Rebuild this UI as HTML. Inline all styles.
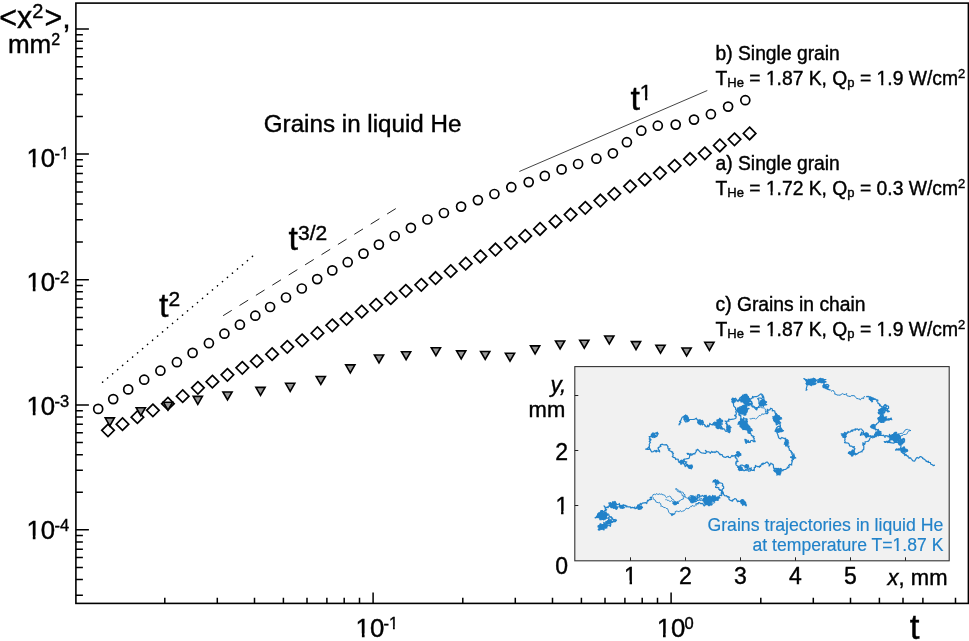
<!DOCTYPE html>
<html lang="en"><head><meta charset="utf-8"><title>Grains in liquid He</title>
<style>html,body{margin:0;padding:0;background:#fff}body{width:969px;height:641px;overflow:hidden}svg{display:block}text{font-family:"Liberation Sans",sans-serif;fill:#000;stroke:#000;stroke-width:.4px}</style></head><body>
<svg width="969" height="641" viewBox="0 0 969 641">
<rect width="969" height="641" fill="#fff"/>
<path d="M75.9 29.1h13M75.9 154.1h13M75.9 116.5h7M75.9 94.5h7M75.9 78.8h7M75.9 66.7h7M75.9 56.8h7M75.9 48.5h7M75.9 41.2h7M75.9 34.8h7M75.9 279.7h13M75.9 241.9h7M75.9 219.8h7M75.9 204.1h7M75.9 191.9h7M75.9 182h7M75.9 173.6h7M75.9 166.3h7M75.9 159.8h7M75.9 405h13M75.9 367.3h7M75.9 345.2h7M75.9 329.6h7M75.9 317.4h7M75.9 307.5h7M75.9 299.1h7M75.9 291.8h7M75.9 285.4h7M75.9 529.8h13M75.9 492.2h7M75.9 470.3h7M75.9 454.7h7M75.9 442.6h7M75.9 432.7h7M75.9 424.3h7M75.9 417.1h7M75.9 410.7h7M75.9 595.3h7M75.9 579.6h7M75.9 567.5h7M75.9 557.6h7M75.9 549.2h7M75.9 541.9h7M75.9 535.5h7M164.8 603.4v-5.6M217.3 603.4v-5.6M254.5 603.4v-5.6M283.4 603.4v-5.6M307 603.4v-5.6M326.9 603.4v-5.6M344.2 603.4v-5.6M359.5 603.4v-5.6M373.1 603.4v-11M462.8 603.4v-5.6M515.3 603.4v-5.6M552.5 603.4v-5.6M581.4 603.4v-5.6M605 603.4v-5.6M624.9 603.4v-5.6M642.2 603.4v-5.6M657.5 603.4v-5.6M671.1 603.4v-11M760.8 603.4v-5.6M813.3 603.4v-5.6M850.5 603.4v-5.6M879.4 603.4v-5.6M903 603.4v-5.6M922.9 603.4v-5.6M955.5 603.4v-5.6" stroke="#000" stroke-width="1.5" fill="none"/>
<rect x="75.9" y="3.1" width="892.5" height="600.3" fill="none" stroke="#000" stroke-width="1.6"/>
<path d="M102.6 382.2L252.6 256.3" stroke="#000" stroke-width="1.6" stroke-dasharray="0.1 6.42" stroke-linecap="round" fill="none"/>
<path d="M223.1 315.7L396.6 208.1" stroke="#222" stroke-width="1" stroke-dasharray="10.2 9.1" fill="none"/>
<path d="M519.3 171.5L707.3 90.5" stroke="#222" stroke-width="0.85" fill="none"/>
<g fill="#fff" stroke="#000" stroke-width="1.7">
<path d="M108 424.1l6.25 6.25l-6.25 6.25l-6.25 -6.25z"/>
<path d="M122.5 417.9l6.25 6.25l-6.25 6.25l-6.25 -6.25z"/>
<path d="M137.4 410.9l6.25 6.25l-6.25 6.25l-6.25 -6.25z"/>
<path d="M152.9 404.1l6.25 6.25l-6.25 6.25l-6.25 -6.25z"/>
<path d="M167.9 397.4l6.25 6.25l-6.25 6.25l-6.25 -6.25z"/>
<path d="M182.7 389.9l6.25 6.25l-6.25 6.25l-6.25 -6.25z"/>
<path d="M197.9 381.6l6.25 6.25l-6.25 6.25l-6.25 -6.25z"/>
<path d="M212.4 375.4l6.25 6.25l-6.25 6.25l-6.25 -6.25z"/>
<path d="M227.4 368.6l6.25 6.25l-6.25 6.25l-6.25 -6.25z"/>
<path d="M242.3 361.6l6.25 6.25l-6.25 6.25l-6.25 -6.25z"/>
<path d="M256.8 354.9l6.25 6.25l-6.25 6.25l-6.25 -6.25z"/>
<path d="M272.1 347.9l6.25 6.25l-6.25 6.25l-6.25 -6.25z"/>
<path d="M287.3 340.6l6.25 6.25l-6.25 6.25l-6.25 -6.25z"/>
<path d="M302.1 334.1l6.25 6.25l-6.25 6.25l-6.25 -6.25z"/>
<path d="M317.4 326.9l6.25 6.25l-6.25 6.25l-6.25 -6.25z"/>
<path d="M332.3 319.1l6.25 6.25l-6.25 6.25l-6.25 -6.25z"/>
<path d="M346.6 312.6l6.25 6.25l-6.25 6.25l-6.25 -6.25z"/>
<path d="M361.7 305.4l6.25 6.25l-6.25 6.25l-6.25 -6.25z"/>
<path d="M376.1 298.6l6.25 6.25l-6.25 6.25l-6.25 -6.25z"/>
<path d="M390.8 291.9l6.25 6.25l-6.25 6.25l-6.25 -6.25z"/>
<path d="M405.8 284.6l6.25 6.25l-6.25 6.25l-6.25 -6.25z"/>
<path d="M421.3 278.6l6.25 6.25l-6.25 6.25l-6.25 -6.25z"/>
<path d="M435.6 271.8l6.25 6.25l-6.25 6.25l-6.25 -6.25z"/>
<path d="M450.7 264.9l6.25 6.25l-6.25 6.25l-6.25 -6.25z"/>
<path d="M465.7 257.4l6.25 6.25l-6.25 6.25l-6.25 -6.25z"/>
<path d="M480.4 250.2l6.25 6.25l-6.25 6.25l-6.25 -6.25z"/>
<path d="M495.5 243.3l6.25 6.25l-6.25 6.25l-6.25 -6.25z"/>
<path d="M510.9 236.6l6.25 6.25l-6.25 6.25l-6.25 -6.25z"/>
<path d="M525.2 229.7l6.25 6.25l-6.25 6.25l-6.25 -6.25z"/>
<path d="M540 222.7l6.25 6.25l-6.25 6.25l-6.25 -6.25z"/>
<path d="M555.5 215.2l6.25 6.25l-6.25 6.25l-6.25 -6.25z"/>
<path d="M570.6 208.3l6.25 6.25l-6.25 6.25l-6.25 -6.25z"/>
<path d="M585.3 201.6l6.25 6.25l-6.25 6.25l-6.25 -6.25z"/>
<path d="M600.4 194.3l6.25 6.25l-6.25 6.25l-6.25 -6.25z"/>
<path d="M614.3 187.6l6.25 6.25l-6.25 6.25l-6.25 -6.25z"/>
<path d="M630.1 180.1l6.25 6.25l-6.25 6.25l-6.25 -6.25z"/>
<path d="M644.8 173.2l6.25 6.25l-6.25 6.25l-6.25 -6.25z"/>
<path d="M659.9 166.8l6.25 6.25l-6.25 6.25l-6.25 -6.25z"/>
<path d="M674.6 159.6l6.25 6.25l-6.25 6.25l-6.25 -6.25z"/>
<path d="M690 152.8l6.25 6.25l-6.25 6.25l-6.25 -6.25z"/>
<path d="M704.8 147.1l6.25 6.25l-6.25 6.25l-6.25 -6.25z"/>
<path d="M719.8 139.2l6.25 6.25l-6.25 6.25l-6.25 -6.25z"/>
<path d="M734.5 133.1l6.25 6.25l-6.25 6.25l-6.25 -6.25z"/>
<path d="M749.6 127.2l6.25 6.25l-6.25 6.25l-6.25 -6.25z"/>
</g>
<g fill="#979797" stroke="#000" stroke-width="1.6" stroke-linejoin="miter">
<path d="M105.2 417.9h9.2l-4.6 8z"/>
<path d="M136.2 407.7h9.2l-4.6 8z"/>
<path d="M163.4 402.2h9.2l-4.6 8z"/>
<path d="M193.2 396.4h9.2l-4.6 8z"/>
<path d="M222.9 392h9.2l-4.6 8z"/>
<path d="M255.9 387.4h9.2l-4.6 8z"/>
<path d="M285.6 383.3h9.2l-4.6 8z"/>
<path d="M316.2 376.5h9.2l-4.6 8z"/>
<path d="M345.7 364.9h9.2l-4.6 8z"/>
<path d="M374.4 355h9.2l-4.6 8z"/>
<path d="M401.5 351.7h9.2l-4.6 8z"/>
<path d="M431.3 347.7h9.2l-4.6 8z"/>
<path d="M456.6 350.9h9.2l-4.6 8z"/>
<path d="M480.6 351.5h9.2l-4.6 8z"/>
<path d="M505.4 353.2h9.2l-4.6 8z"/>
<path d="M530.5 345.9h9.2l-4.6 8z"/>
<path d="M555.5 341h9.2l-4.6 8z"/>
<path d="M579.7 340.2h9.2l-4.6 8z"/>
<path d="M604.7 336h9.2l-4.6 8z"/>
<path d="M631.4 341.6h9.2l-4.6 8z"/>
<path d="M655.9 345.2h9.2l-4.6 8z"/>
<path d="M682 348h9.2l-4.6 8z"/>
<path d="M704.8 342.3h9.2l-4.6 8z"/>
</g>
<g fill="#fff" stroke="#000" stroke-width="1.7">
<circle cx="98.2" cy="408.9" r="4.5"/>
<circle cx="113.2" cy="399.1" r="4.5"/>
<circle cx="128.2" cy="389.4" r="4.5"/>
<circle cx="144.2" cy="379.7" r="4.5"/>
<circle cx="160.4" cy="370.7" r="4.5"/>
<circle cx="176.9" cy="362.2" r="4.5"/>
<circle cx="192.6" cy="352.9" r="4.5"/>
<circle cx="208.9" cy="343.2" r="4.5"/>
<circle cx="224.4" cy="333.7" r="4.5"/>
<circle cx="239.9" cy="324.7" r="4.5"/>
<circle cx="255.3" cy="315.7" r="4.5"/>
<circle cx="270.1" cy="307" r="4.5"/>
<circle cx="286" cy="297.5" r="4.5"/>
<circle cx="301.8" cy="288.5" r="4.5"/>
<circle cx="317.2" cy="279.1" r="4.5"/>
<circle cx="332.3" cy="270.4" r="4.5"/>
<circle cx="347.7" cy="262.2" r="4.5"/>
<circle cx="363.5" cy="253.6" r="4.5"/>
<circle cx="378.9" cy="244.6" r="4.5"/>
<circle cx="394.7" cy="236" r="4.5"/>
<circle cx="410.9" cy="227.8" r="4.5"/>
<circle cx="427.4" cy="219.5" r="4.5"/>
<circle cx="443.9" cy="213" r="4.5"/>
<circle cx="461.1" cy="206.6" r="4.5"/>
<circle cx="477.9" cy="200.1" r="4.5"/>
<circle cx="494.4" cy="194" r="4.5"/>
<circle cx="511.3" cy="187.2" r="4.5"/>
<circle cx="528.7" cy="182.1" r="4.5"/>
<circle cx="544.8" cy="175.9" r="4.5"/>
<circle cx="561.6" cy="169.4" r="4.5"/>
<circle cx="578.1" cy="164" r="4.5"/>
<circle cx="596.4" cy="158.7" r="4.5"/>
<circle cx="612.9" cy="153.3" r="4.5"/>
<circle cx="626.9" cy="142.2" r="4.5"/>
<circle cx="641.3" cy="130.7" r="4.5"/>
<circle cx="657.8" cy="125.7" r="4.5"/>
<circle cx="675.7" cy="124.6" r="4.5"/>
<circle cx="694" cy="119.6" r="4.5"/>
<circle cx="710.9" cy="114.2" r="4.5"/>
<circle cx="728.1" cy="106.6" r="4.5"/>
<circle cx="745.3" cy="100.2" r="4.5"/>
</g>
<rect x="574.8" y="366.6" width="374.4" height="194.2" fill="#f1f1f1" stroke="#333" stroke-width="1.1"/>
<path d="M574.8 505.5h3.5M574.8 450.5h3.5M574.8 395.5h3.5M630.5 560.8v-3.5M685.5 560.8v-3.5M740.5 560.8v-3.5M795.5 560.8v-3.5M850.5 560.8v-3.5M905.5 560.8v-3.5" stroke="#222" stroke-width="1" fill="none"/>
<path d="M598.8 530.3l-.6-.7l1.5-.6l-.5-.7l.5 .4l-.2-1.4l1.6-.5l1.3-.1l-.1-1.8l1.7 .3l.1-.4l.6 1.5l-.2 .3l.7 1.3l1.8-.1l-.3-.1l-.3-.6l-.3-.4l-.3-.3l1.8-.3l1.2-1.2l.8 .8l.7 .6l.5-1.7l-.5-1.6l.3-.8l.3-.2l.2-.2l.2-.1l.1 .4l-.8-1.2l.2 .2l.2-.1l.2 .2l.2 .1l-.8-1l-1.7 .4l1.2 .7l1.4 .5l1.7-.5l.6 .5l1.5-.8l0 .2l.3 .3l.8-1.6l.1 .2l-.7 .6l-.6-1.4l-.7 .6l.4-.5l-.7 .5l-.6 .5l.6-.6l-1.5-1l-.6 .4l.5-1.3l-.7 .6l-.4-1.7l-.5 .8l0-.9l-1.8-.2l.2 .1l-.7 .8l-.8 .7l-1.7-.4l-.3 .5l.4-.4l-1.6-.8l-1.7-.4l.4-.6l.3-.4l-1.7-.3l-.7 .6l-1.4-.7l-1.3 1.1l.2 .2l-.8-.8l-.6 1.4l.2 .3l-1.1-.9l.4 .6l-1.8 .3l.2 .4l1.5-.5l.5-1.7l.5-1.5l.9-1.3l.2 .7l1.6-1l-.1 .3l.7-1.2l-.2-.1l-.1-.6l1.7 .5l1.8-.2l.8-1.1l.7-.6l-.5 1l.7-.3l.7-.5l-1.4-.7l-.2-1.8l-1.1-1.4l.8 .8l.4 .6l.7 .6l1.5-1l-.3-.1l.2 .4l.7 .5l.9-1.5l1.6-.5l-.5-.6l.7 .6l1-1.5l.6-1l.7 1.1l-.2-.1l.8 1l.8-1.2l.4 .9l1.8-.2l1.7-.4l.6-.4l.5-.4l0 1.6l1.5 .6l-.7 .8l.7-.6l.3 1.8l.8-1.1l.1-.6l1.1-.7l.7-.6l-.4 .6l1.7 .4l.5-.4l.4 1.7l.8-.8l0-.4l-.1 .9l1.8 .2l1.7-.1l.7 1.3l.1-.5l-.3 .2l1.5-.4l1.7 .4l.6-.5l.2-.3l-.3 0l.6 1.7l1.7-.5l-.3-.6l.3 .5l.7-1.4l1.7-.2l-.2-.7l-.2 0l.8-1l.7-1.4l.3 .7l.7 .7l-.2-.5l1.2-1.1l1.8-.3l1.7-.3l.7 .6l.2 .3l.4-1.7l.6-1.6l.6 .6l1.2-1.4l.8 .4l1.5-.6l-.8-.8l-.5-.6l-.3-.4l1.8-.1" fill="none" stroke="#2182c9" stroke-width="1.2" stroke-linejoin="round"/>
<path d="M652.3 496.9l0-.1l-.1-.5l.7-1.1l0-.4l1.4-.6l.7 .4l.6 .2l.8-1.3l.1 .1l1.1 .7l1.5 0l.8-.7l.8 .9l.8-.8l.3 .8l1.4 .3l1.4 .3l.7 1l.1 .3l.1 .2l0 .2l1 .8l.8-.7l1.2-.3l.7-.3l.5-.2l1.1 .7l.4 1.2l.8 1.1l1.4 .4l.7 1.2l.7 .9l.1 .1l0 .1l-.5 1.2l1 .8l.5-.9l1.5 .1l-.1-.6l-.1-.5l.7 .3l1.3-.5l-.1-.6l-.1-.4l.7 .3l1-1.1l1.3-.5l1.2-.3l-.1-.5l.5 .2l-.2-.7l-.1-.5l.4-1.1l.8 .5l-.6-1.2l-.6 .2l-1.3-.5l0-1.1l-.8-1.1l-.8-1l-1.4-.3l-.1-.4l-.7 .4l-.8-1.1l-.7-.9l-.3-.5l-1-.5l.7-.3l.6-.2l.6 1.2l1.4 .5l.1 0l.7 1.3l.6-.3l.5-.1l-.1 .6l1.3 .5l.4-.1l1.2 .6l-.1 .2l.5 1.3l1.3 .6l-.3 .6l.6 1.3l-.1 .6l1.3 .5l1.2 .5l.5 0l-.2 .3l1.2 .8l.2 1.5" fill="none" stroke="#2182c9" stroke-width="0.9" stroke-linejoin="round"/>
<path d="M690.0 501.3l.8 .8l-.3-.4l1.7-.3l-.3-.5l.7 .7l.6-1.4l.6 .7l.6 .5l.3 .2l.8 .1l-.9-.2l.3-1.7l1.4-.7l1.3-.3l-.8-.8l1.4-.7l-.9-.9l.5-1.7l1.7 .2l-.2 .3l-.3 .3l.8 1.2l-.2 0l-.2 .4l-.2 0l-.2 0l.8-1.1l1.8 .2l.8-.8l1.3 1.2l1-1.1l.8 1.2l.8-1.3l-.7 .3l.3-.3l.3 1.8l1.2 .2l1 .8l-.3 1.8l-1.3 .7l-1.3 .7l.8 1.3l-1.2 .5l-.1 1.8l-.8 1l-.8-1l.2 .1l-.4-.9l-.8-.8l-1.8 .2l-.7-.7l-1.3-.4l-.6 1.5l-.7-.5l-1.5 .5l.6 1.4" fill="none" stroke="#2182c9" stroke-width="1.2" stroke-linejoin="round"/>
<path d="M695.3 505.7l-.1 .3l-1.5 .2l-.7-.5l-.8-.3l-.5 1l0 .3l-.9-.4l-.7 1l-1.2 .8l-.8 .9l-.8-.6l-.1-.1l-.1 .3l-.8-.5l-.6 1.1l-.2 0l-.7 .9l-.8 .8l-1.5 .1l-.8 .8l-.8-.7l-.8-.6l-.4 .9l-.1 .1l-.1 .1l-1.5 0l-.1 0l-.8-.6l-1.3 .3l.1 .5l-.7-.2l.1 1l-.2 1l-.8-.3l-.5 1.1l-1.4 .2l-1.4-.3l0-.6l-1.4-.4l-.8-1.1l-.1-.2l-.3-1l-.3-1l-.4-.9l-.1-.4l-1.5-.3l-.7-.8l-1.5-.1l-.9-.7l-1.2-.6l-.5 .1l-.6 0l.4-.7l0-.2l-.5-1.4l.1-.4l-1.3-.8l.1-.5l-.7 .3l-.6 .2l-1.3-.6l-.4 .1l-.1-.1l-.4 0l-.3-1.4l-.6 .1l.2-.7l-1.2-.8l-1.1-.6l.4-.5l-.6-1.4" fill="none" stroke="#2182c9" stroke-width="0.9" stroke-linejoin="round"/>
<path d="M671.6 515.0l-.3-.3l.6 .8l.7-1.5l1.8 0l-1.5 .8l-1-1.1l-.8 1.3" fill="none" stroke="#2182c9" stroke-width="1.2" stroke-linejoin="round"/>
<path d="M707.5 500.4l.8 1l.8-1.2l.2-.8l.8 1l1.3 .7l1.8-.2l1.3-1.2l1.8 0l.7-1.5l-.3-.3l1.7-.3l.8-1.4l.8-1l1.7 .4l.1-1.8l-.8-.8l1 .2l.1 .2l1.1-.8l-1.3-.5l-.4-.1l1.2-.7l-.9-.6l.7-1.6l1.2-.8l-.1-1.8l-1.4-.7l.7-.7l-.5-1.6l-1.6-.5l-1.7-.4l-.6 .4l-1.3 0l-.2 .3l-.2-1.8l.2 .1l-.8-.9l-.7-.8l-.7 1.4l-1.2-.7l-.7 1.5l.8-.8l1.7 .4l.4 1.7l-.5 .7l1.5 .6l-.5 .6l.6-.4l-.6 .6l-.5 .7l-.2 1.1l1.7 .4l0-.4l1.6 .6l-.1 1.5l1.6 .5l-.5 .6l1.1-.4l.8 1.6l1.4 .6l.3 1.8l1 1.5l1.7 .4l.4-.4l.9 1.5l.6-.5l1.5 .6l-.7 .3l0 1.6l.8 .9l1.5 .6l1.4 .5l-.3-.4l-.2-.3l1.6-.8l1.2-1.1l1.5 .8l.5 1.3l.7 1.2l.8-.9l-.2 .2l1.8 .2l1.7 .2l.6-.5l0-.2l-.5 .6l.6-.4l.5 1.6l.6 1.5l-.3 .4l-.3 .3l-.2 .2l.8-.8l.7-.6l1.5 .3l-.8 .8l-.1-.2l.6-.5l-.6 .9l1.2-.5l-.3 .2l-.1-.3l-.2 .2l-.1 .5l.8 .9l.5-1.4" fill="none" stroke="#2182c9" stroke-width="1.2" stroke-linejoin="round"/>
<path d="M688.2 497.8l.8-1l.8-.9l.1-.1l1.5-.1l0-.1l1.5 .1l.1-.1l.8 .5l.6 .3l1.4-.2l.4-.3l.1 .7l.9 .9l.1-.1l1.4 .6l1.5 .2l1.4 .2l-.7 1l-.7 1l-.3-.3l-1.4 .2l-1.5 .2l0 .5l-.8 .8l-.1-.5l-1.5-.2l-1 .4l0-.4l-.7-1l-1.5-.1l1.3-.4l1 .9l1 .8l1.5 0l.8-.7l1.3-.1l.8-.6l.6-.5l0 .3l.8 .9l.8-.6l.8 .9l.4-.4l.3 .7l1.5 .1l.7 .9l1.5-.2l.6 .8l1.4 .4l.1 0l.1 0l.1-.1l.8 .7l1.5-.2l.8-.9l.6 .3l1 .2l1.3-.6l-.1-.3l.1-.1l-.1-.5l-.1-.8l.3 .2l.7-1.2l0-.4l.7-1l1.5-.1l.8-.9l-1.5-.2l-1.4 0l-.6-1l-.8 .6l-.7 .3" fill="none" stroke="#2182c9" stroke-width="0.9" stroke-linejoin="round"/>
<path d="M665.4 499.6l.2 .1l.3-.2l.3-.1l.7 .8l1.4 .1l.2 .1l.8 .7l1.3 .3l.2-.2l.8-.7l.7 1l1.3 .3l.1 .4l.7 .9l1.3 .5l.8 .7l-.4 .2l-.3-1l-.2-.2" fill="none" stroke="#2182c9" stroke-width="0.9" stroke-linejoin="round"/>
<path d="M678.9 425.4l.4-1.7l.6 .4l.4-1.7l-.4-.7l-.4-.4l.8 .7l.6 .4l-.6-.6l.6-1.5l.6-1.6l.7-1.4l1.5-.9l1.3-.7l.7-.7l.7 1.4l.7-.7l-.3 .5l-.3 .3l.7 1.3l.5-1.1l.7 1.3l-1.4 .7l-1 0l.1-.2l-.2-.2l-1 .8l.3-.2l.2-.2l-.9 .7l.4 1.7l.8 .9l1.7-.3l1.6-.9l.7-1.3l1.8 0l1.8 0l1.7-.4l1.3-.9l.7 1.4l1.5 .6l-.7 .7l.3 1.6l.7 1.5l1.7 .2l-.1-.2l-.1 .8l.7-.8l.7-.6l.7 1.5l-.1-.2l.7-.7l1.5 .6l.6 1.7l.1-1l-.2-.1l-.2-.1l.8 .9l.7 .8l1.7-.4l-.3-.7l-.1 .3l-.1-1l.6 .8l.1 .4l.6 .5l.5-1.6l.7-1.4l-.3-.4l.7 .7l.7 .6l1.5 .1l-.1 .2l-.4-.2l1.3-1.3l1.1-1.4l1.6 .5l-.5 .7l.6 1.4l-.2 .3l.7-.8l-.3 .4l1.3-.5l1.3 1.2l.8 1.4l-.1 .6l-.2 0l.5 .9l.7 .7l-.4-.7l1.8-.3l.2 1.3l-.3 .3l.8-.8l1.7 .4l.6 1.6l.8 .8l1.7-.3l.7-1.4l.8-.3l.8-.7l-1.3-.8l-.2-1.8l-1.2-.7l.6-.6l-1.2 0l.7-.7l-1.5-.7l.6-.3l.5-1l-1.6-.8l-.2-.3l1.2 .6l-.3-.1l1.7-.4l1.3 .1l-.7-.8l.6-1.5l.8 .8l1.7-.3l1.7-.2l1.6-.5l1.3-.7l.2-1.8l-.7-.4l-.5-.2l-.1 .2l.4 .3l-.7-.7l1.5-.7l.3-1.7l-.5-.5l-.1-1.1l.9-1l-1.1-.8l0-1.8l-.9-.8l-1.1-1.1l-.1-1.8l0-1.8l-.6-1.6l-.9-.8l-.5-.7l.7 .6l.4-1.7l1.7 .6l1.2-.5l1 1.4l.7 1.4l-.4-.5l.7 .6l.6 .5l0-1.4l.6 .5l-.5-.5l1.6-1l-.4-.3l.7-1.4l1.7 .3l.7-.6l1.3 1.2l1.1 1.4l-.4 0l1.4 .7l.3-.2l1.2 .8l.6 0l-.2 1.7l-.1-.3l-.6-.5l-.5-.4l-.5 1.7l.5 .6l-.1 1.3l-.7-.6l.3 1l.3 .2l-1.8 .3l-.7-.5l0-.3l-1.5 .6l-1.2 .8l-.7 .1l-.9 .2l0 1.8l1 .8l1 1l-1 .1l-1 .4l.1-.2l.1-.2l.1 1.8l-.5 1.5l-.7 .8l1.4 1l.3-.3l.3-.2l.2 1.7l0 1.8l.5 1.6l-.6 .6l1.5 .9l-.6 .6l1.5 .7l-.6 .6l.6 1.6l-.4 .5l-.1-.2l.5 1.4l.8 1l.7 .5l.3-1.7l-.4 .4l1.6 .4l.6 1.6l.7-.6l.5 1.6l.5-.4l1.3 .2l-.7 .7l.5 1.7l1.3 1.2l.5 1.7l1.3 .7l.2-.2l1.2 .7l-1 1l1.2 .9l-.5 1.7l1.2 .8l.1 .7l.1-.2l-1.7 .2l-.8-.8l-.5-.6l-1.6 .5l-.5 1.7l-1.7-.4l.4-.5l-.8-1.4l.1 .4l-.8 .8l-1.6-.5l-.5 .3l-.2-1.7l-.2-.1l1.6 .5l-.1 1.4l-.3 .4l-.2 .3l-.3 .2l.8 1.2l-.2-.2l-.2-.1l.8-1l.8-.8l.5 1.6" fill="none" stroke="#2182c9" stroke-width="1.2" stroke-linejoin="round"/>
<path d="M745.5 399.9l.8-1.2l1.8-.2l-.2-.1l-.2 .1l.8 .9l-.2-.6l.7 .8l-.2-.3l1.7-.1l1.4-1.1l.8-1.3l.4 1.2l-.1-1.2l-.4-.4l.8 .6l1.6-.4l1.5 0l1.5-.6l1.3-.9l1.1-.8l-.4 .3l.8-.8l1.5 .7l-.6 .7l1.4 .1l-.7 .7l-.1 1.5l.7-.6l.5-.4l.4 1.7l0 1l-.8 1.2l-.8-1l.1-.3l-1.1-.6l-1-.5l-1.4 0l-1.3 .8l1.1 .8l.3 1.7l0 1.6l.4-.3l.7 1.7l-.4 1.2l-.2 .3l.4-.8l1.5 1l-1.4-.2l-1.6 .5l.5 .6l-1.5 1l-1-.3l.9 .8l-.6 1.6l-.3-1.4l-.7 .7l.1-1.1l-1.6-.8l.3-.3l.2-.2l-1.5-.9l-.8 1l.1-.9l.2 0l-1.5-.8" fill="none" stroke="#2182c9" stroke-width="1.2" stroke-linejoin="round"/>
<path d="M750.8 406.1l1.4-.1l.8 .9l.8 .8l.1 0l.8 .6l.5-.8l1.5 0l1.5 0l.1-.1l1.5 .1l.9-.6l.8 .9l1.5 0l1.4 .3l.9 .8l0 1.5l.1 .1l.1 .1l0 1.5l.1 .1l.8 .8l-1.5 .3l-.7 1l-1.2-.2l-1.2-.2l-.2 .9l-1.1 .9l-1.4-.2l0 .2l-.8 .9l-.1 .1l-.6 .9l-.8 .7l-.1 0l-.8 .7l-.2 .2l-.8-.8l-1.5 0l-1.5 0l-.8 .7l-1.4-.5" fill="none" stroke="#2182c9" stroke-width="0.9" stroke-linejoin="round"/>
<path d="M765.7 413.9l1.5-.6l.3 .3l.4-1.7l.3 .3l-.5-.3l-.5-.3l-.5-.6l.5 .4l.5-1.6l-.4-.5l.8 .6l.5 .4l1.4-.7l0 .2l.6-1.6l1.5 .5l.5 1.7l-.4 .5l1.1-.4l1.5 .6l.2 1.8l1.2 .8l.7 1.5l-.2 1.8l.7 1.6l1.2 .8l0 1.8l1.1 .8l-.2-.2l.8 .6l-.3-.3l.7 .8l-1.5 .7l.9 .8l.4 1.7l-.4 .5l.9 1.4l-.5-.8l-.7-.8l.3 .4l-.8-.7l-1.6 .5l.3 0l-1.4 1.2l-.6 1.5l.4 1.7l-.5 .6l1.6 .3l-.6 .7l.6 1.5l.7 1.4l-.3 .2l.8 1.3l-.2-.3l0 .7l.8 1l1.6 .4l-.2-.3l1.2-1.1l1.4 .8l1.7 .5l.8-.5l-.6 .7l.2 1.5l1-.7l1.5 .6l-.3-.3l.7 .9l-.2-.3l-.4 1.7l-.5-.4l-.5-.2l-1.2 1l-.5 0l.3 1.7l.5 1.7l.6-.4l1.3 .1l1.3 .6l.1-.2l-1 .8l1.1 1.3l.1 1.8l1.6 .6l0 1.4l.6-.5l.5 1.6l.3-.5l-.4 .6l-.2 .9l1.8 0l.4-.2l.2 1.7l.1 1.7l1.6 .6l-.6-.4l-.4-.4l-1.5 .7l-.3 1.7l-1.4 .7l.9 .8l-.5-.3l0 1.7l-.5 1.6l.3 1l0-.3l-1.5-.1l-.6-.4l-1.1 1.3l.5 .4l-.5-.5l.6 .7l-.5 1.5l-1.3-.6l.2 .3l-.7 1.2l-1.5 .9l-1.8 .1l-.8 1.2l-.8-1l-.7-.8l-.7-.6l-1.2 1.4l-1.6 .5l.3-.5l-.7-1.3l-1.8-.2l-.7 .7l-.4 .3l.7-.7l-1.7-.5l0-1.7l-.3-1.8l-1.4-.7l-1-.8l.2 .2l-.8 1.1l-.7 .9l0 .3l.3-.5l-.8 .8l.4-.5l-.1 .4l.3-.7l-.8-1.3l-.9-.9l.2-.1l-.5-.5l-.5-.3l-1.1 .3l-.7 .8l-1.7 .6l-.7-.6l.4 .1l-.5 1.5l-.7-.7l.3 .4l-.7-.6l-.7 1.4l-.5 1.3l-.5-.8l.2 .4l-.7 1.2l-.6-.9l.3 .2l-1.8 0l-.7-.6l-.9-.3l-.4-.3l.6 .9l-.5-.3l.2-.2l-.4 1.7l-1.1-.2l.2 1.6l-.3 1.6l.2 .2l-.7-.9l.2 .3l-1.8 .2l-.7-.8l.3 .4l.2 .4l-.9-.8l-.7 1.5l-1.7 .2l-.8-1l-.8-.9l-.8 1.2l-.8-.9l.3 .3l-1.5 .9l-.8-.9l-.6-.5l-.2-.3l.8 .8l-1.6 .5l-1.6-.9l-1.5-.6l.4-1.7l-.1 .2l-.3 .2l-.9-.1l1-1l-.8-.1l-1.1-.8l-.8-.8l-.2-1.6l.5 .3l-.6-.3l.5-1.7l.6 .6l1.4-.8l-1.2-.4l.1-1.8l-1.1-.8l.5 .4l-.6-.7l-.5-.5l-.4-.6l1 .4l-.5-.6l-.4-.5l.7-1.5l1.7-.3l.7 .5l-.5-.3l1.6-.8l-.5-.6l1.5 .3l.6 1.6l-1.7 .5l-.7-.8l.3 .4l-1.7 .4l-1.6-.1l-1.4 .1l-1.3 .7l-.8-.9l-.9 1.2l-.8 1l-1.7-.3l-.2-.9l-1.8 .2l-.7 .7l-1.7-.1l-1.5-.9l-.5-1.6l-1.8-.1l0-.6l-.3 .8l-.8-1.1l-.8-1.1l-.8-.9l-1.5-.5l.3 .4l-1.5 1l-.7-.8l-1.7 .5l-.8-1l-.8 1.1l-.8 1l-.1-.8l-1.4-.8l-1.8 .1l-.8-.9l-.7-.6l.5 .6l.3 .4l0 1.1l-.8 1l-1.8-.4l-1.8-.1l-1.5-.8l-1-1.1l-.8-.9l-.7-.7l.3 .5l-.7-.7l.4 .5l-1.7 .4l.4 .6l-.7 1.3l-.8 1.1l-.1 .6l-1.8-.1l-.8 .8l.1 .3l.3-.3l-1.2 .6l-1.6-.1l.4-.6l.4-.4l.3-.4l-.8 .8l-1.6-.5l-1.5-.6l.8 1.2l-.2-.1l.8-1l1 1.2l1.8-.1l-1.6 .6l-.1 1.6l-.6 1.6l-1.7 .3l-1.7 .4l-1.6 .2l.1-.1l.5 .6l-.6-.5l.5 .6l-.7-.5l-1.2 1.3l.6-.5l1.2-.2l-.4 1.2l-.5 .6l1.5-.1l1.5 .6l.3-.3l-.8 .8l-.5 .6l-.4 .5l.8-.7l.6 1.6l.8 1.2l-.2 .1l.9-1l.7 1.2l-.2 .1l.8-1l-.2 .3l0 .8l.8 1l1.8-.1l.7-1.3l-1.3 1.1l-.8 1.2l-1.7-.4l-.7-1.4l.1-.9l-.8-1.3l-.8 1l.3-.3l-.8 .8l-.7 .7l-.6-1.6l-1-1.3l.2-.2l-1.6-.9l-1.7-.1l-1.8-.3l.3-.3l-.8-1.2l.1-1.2l-1.7-.4l-.9 .5l-.5-1.6l-1.7-.5l-1.2-.8l.8-.8l-.3-1.7l.7-.7l-1.5-.7l.7-.7l-1.5-.6l-1.5-.7l-1.3-.7l.8-.8l.5-.5l.3 0l-.6 .5l-1.4-.7l-.2-1.8l.2-.1l.1 .2l-.8-1.1l-.8-1l-1.7 .1l-1.8-.1l-.7-.6l-1.5 .6l-.1-.2l.6 .1l-1.2 .7l.9 .8l-1.1 .6l-1.1 .8l.1-.2l-.9 .8l.1-.2l.2-.3l.2-.2l-.3 1.7l1.1 1.4l.1-.2l.3 1.7l-.8-.9l-1.8 .1l-.8-.8l.3 .3l.2 .3l0-.5l.2 .3l-.8 1.2l-.8-.9l.2 .2l-.7-.8l-1.5 1.1l-1.7 .3l-.8-1.3l-.7-1.2l-.4-1l-.8 1.1l-1.8-.1l.3-.1l-1.8-.1l1.7-.5l.8-1.1l.7-.8l-.5 .7l1.3 1.1l-.5-1.4l.4-1.6l-.5-.7l.6-1.5l.8-1.2l-1.2-.8l.9-.8l.8-.7l-1.2 0l.8-.5l.4-.1l-.5 .3l-1.3-.7l.9-.8l-.9-1.5l1.8-.1l.8-1.2l-.3 .2l0 .6l.8 1l1.7-.4l.3-1.8l-.1 .2l.4-1.7l1.7-.5l.9-.1l.2-.2l.1-.2l-.4-.1l-.7 1.4l.4-.4l.3-.2l1.2 .8l-.2-.3l-1.1 1.1l.4 .5l-.8 1.4l-.7-.8l-.7 1.4l-1.7 .6" fill="none" stroke="#2182c9" stroke-width="1.2" stroke-linejoin="round"/>
<path d="M738.5 466.1l1.8-.1l.5-.9l1.8 .1l1.4 .9l1.8 0l-.1 .8l-.2 0l1.8 .1l-.2 .1l-.2 .1l.2 .8l.8 .9l1.2 .6l.6-1.5l.8 .8l1.2-1.3" fill="none" stroke="#2182c9" stroke-width="1.2" stroke-linejoin="round"/>
<path d="M805.6 390.5l1.4-.7l-.8-.7l.4-1.7l.5-1.7l.3-1.5l-1.4-.7l.3 .1l.3-1.5l.6-.6l.2 0l-1.6-.6l-.4-1.7l-1.6-.7l1.2 1.1l1.8 0l.5 1.1l-.2 0l1.3 .4l.6-.4l.5 1.6l1.6 .5l1.6-.4l.5 .4l-.5-.6l-.4-.6l.7 .6l-.4-.5l1.6-.2l1.5-.6l.2 .2l1.2-.8l1.2-.8l.8 1.1l.8 1l-.2-.1l.4-1l1.7 .4l1.7-.5l.8-.9l1.6 0l-1.7 .3l-.8-.6l.3 0l-1.2-.4l.3 0l-.1 1.5l-.5 1.4l-1 1.2l-.2-1.2l1.5 .6l1.2 0l.8-.1l.5-.1l-.9 .9l-.5 1.5l.5-.4l.9 1.6l.6-.5l.5-.4l.5-.4l1.2 .1l1.2 1.4l-.8 .7l-.1 1.6l-.4 .5l-.4 .5l1.7 .4l1.6 .5" fill="none" stroke="#2182c9" stroke-width="1.2" stroke-linejoin="round"/>
<path d="M831.0 391.3l1-.4l.5-.4l1.5 .5l-.1 .2l.8 1.2l-.1 .5l.3 1.1l.1 .6l.8-.6l1.1 1l1.6 .1l1.6 .1l.8-.6l0 .2l.8-.7l.6-.5l1.4 .7l1.5 .3l.2-.3l.7-.4l.7-.3l-.2 .7l-.1 .5l.7 1.1l1.5 .3l1.6 .3l.8-.6l-.1 .2l.7-.6l1.5 .3l.8-.5l-.1 .3l1.3 .9l.8 1.1l.7 1l1.6 0l.8 .8l.1-.6l.8 .6l.7 .5l-.1-.4l.8-1.1l1.5-.2l.8 .5l-.1-.4l-.1-.4l0-.4l0-.1l.8-.9l0-.2l.4 1" fill="none" stroke="#2182c9" stroke-width="1.0" stroke-linejoin="round"/>
<path d="M866.2 397.0l.7-.6l1.7 .5l-.1-.2l.1-.3l-.5 .6l.8-.5l1.4 .4l-.4 .1l-.3 1.4l.3-.5l-.5 .6l-.3 .5l1.6 .9l-.1 .4l.8-1.1l1.7-.3l1.8 .1l-.1-.1l1.3 .7l1 .3l.9 .4l-1.3 .8l1.1 .8l.2 1.5l1.6 .7l0 1.5l.7-.6l-.5 .6l1.6 .7l-.2 0l.8 .9l1.5-.9l.8-1l.8-.8l0 1.4l.8-1l1.3 .8l1.3 .7l.1 1.8l.1-.2l-.9 .8l-.6 .3l.5 1.7l-.3 .4l.7-.8l-.5 .7l1.8 .3l-1.6 .5l-.8-1.2l-1.8-.2l.2 .1l-.8 .9l.2-.2l-1.5-.9l-.8-1l-.8-.9l0-.3l-1.5 1.1l-1.1 .7l1 .8l.9 .8l-.4-.2l.8 .7l.5 .7l-1.6 .5l.6 .4l-.2-.4l-.5-.4l.7 .8l-1.3-.2l.6-.5l-.5 .6l.6 1.5l.7 1.4l.2 1.1l1.8 0l.8 1.1l1.6 .7l.8 1l.8-1.2l.8 1l1.7-.3l-.2-.2l.5-1.1l1.6-.5l-.3 .4l.7 1.2l-1.4-.7l.2 .1l-1.6 .6l-.7-1l-.8 1.2l-.8-1l-1.7 .3l-.8-.7l-.4-.3l-.1-.2l-.1 1.8l.2-.2l.2-.1l-.8-1.1l-1.6 .9l.4 .2l.3 .5l.1-.3l-.6 1.5l.2-.2l-.8-.7l.3 .9l-1.7 .3l-.7-.6l-.6 1.6l-1.5 .9l-.7 1.3l-1.8 .5l-1.3-.7l-1.5 .5l.5 1.6l1.3 1.2l1.6 .6l.5 1.6l.7-.6l1.5 .7l.6-.6l-.4 .6l-.4 .5l1.7 .7l1.6 .4l-1.6 .7l-.6-.4l-1.4 .6l.8 .8l-.1-.3l-.5 1.6l-.2 .2l.8 1.1l.2-.8l1.8 .1l1.8 .1l1.8 .2l-.1-.4l1 1.2l.5 1l-.3-.5l.8-1.2l1.8 .1l.7 1.2l.8-1l-.2 .2l1.7 .5l-.2 .1l-.2 .1l1.8 .1" fill="none" stroke="#2182c9" stroke-width="1.2" stroke-linejoin="round"/>
<path d="M893.2 437.1l.7 .2l1.2-.6l.4 0l1-.8l1.2-.6l.4-.1l.4-1.3l.9-.2l.4 0l1.2-.4l1 0l.6 0l1-.9l-.1-.5l1.2-.7l.4-1.2l.8-.5l1.3-.1l.4-.2l.9 .9l.4-.2l1.3 .3l.1 .5l.7-.3l-1.3 .3l-1.3 .5l-.7 1l-.3 .8l-.6 .9l-.2 .2l-1.3 .4l-.2 0l-1.4 0l-1.2 .5l0 .5l-.7-.1l0 .3l-.6-.1l-.6 1.2l-1.2 .5l-.9 1.1" fill="none" stroke="#2182c9" stroke-width="0.9" stroke-linejoin="round"/>
<path d="M898.2 438.8l.5 1.5l.7 1.4l-1.7 .4l-1.6 .4l-1.8-.1l.2-.1l.2 0l-.8 .9l-1.8-.2l.2-.1l-1.8-.3l.2-.6l-1.7 .4l-.8-1.1l.2 0l-1.8 0l-.9 1l.2-.4l-1.7-.2l.7 .7l1.4-1l.8 .6l.6 .6l1.6-.6l.6 .5l-.5-.7l-.5-.5l-.3-.5l.7 .6l.6-1.6l-.3-.5l.7 .7l.7-1.5l0 .4l.7 .7l1.6-.6l.6-.5l.6-.5l-.4 .5l-.3 .9l.7 1.5l.6-.6l1.7 .4l-.4 .5l-.1-.2l0 1.2l1.7 .1l.6 1.5l.9 1.3l.8-.9l-.1-.2l.6-.5l1-.3l-.7 .4l-.6 .7l.5 1.4l-.2 1.7l-.9 1.6l-.8 1.3l-1.5-.5l-.8-.6l.4 .5l-1.7 .5l.8-1.2l1 .9l.8-1.1l1.8 .2l1.6-.7l.8 1.2l.8 1.1l1.8-.1l.8-1l.8 1.2l-.3-.2l.8-1.1l.8 1.4l-.7-.6l0 1.3l-1.7 .3l-.7 1.5l-1.8 .1l1-.6l.2 1.3l.7 1.4l.8-.8l-.3 .4l.8-.7l.3 1.3l1.8 .3l-.3 .4l-.2 .2l1.3 .9l-.1 .7l1.7-.4l.8 1.2l.8 1l.8 .9l1.7 .2l.7-1.4l.8-1.2l-.2-.1l.7-.6l.5-.4l1.2 .8l.8-.7l.6-.6l.5-.4l1.5 .6l1.3 1.1l-.5 .3l1.5 .6l1.1 .8l1.2 1.2l-.3 .3l.2-.6l-.3 .3l1.5 .9l.7-.9l.8 1.4l-.2 0l-.2 0l1.8 0l.4 1.7l1.6 .5l.8 .9l1.7-.5" fill="none" stroke="#2182c9" stroke-width="1.2" stroke-linejoin="round"/>
<path d="M876.9 434.7l-1.6-.5l.1 .8l-.8-.9l.2 .1l.3 .3l-.2 1.1l-.8 1l-.7 .6l-.2 .3l-.4 .4l-1.3-.8l-.8-.9l.2-.7l-.8 .8l-1.7-.4l-1.6-.5l-.1-.6l-1.5-.5l.3 .3l-.2-.5l-.5-.6l.2 .7l-.7-.6l-.7-.6l-1.4 .1l-.3-.3l.2-.1l-.3-.3l-.3-.2l-.2 1.7l-.9 1.5l.2-1.2l.8 .8l1.7-.3l1.4-1.1l-1 .4l.4-.6l-.6-1.5l.3-.5l-1.3-1.1l-.8-1.3l-1.8 0l-.8 1.3l-.7-.8l-.8-.6l-1.6 .4l-.7-.5l.2 1.4l0-.3l-1.5 0l-1.3 .1l-1.1 .8l1.4 .3l-1-.7l.2 .8l-.8-.7l-.7 1.3l-1.8 .3l-.7-.7l.3 .4l-.7 1.4l-.3-.8l-.8 1.4l-.8-1l-.6 1.4l-.1 1l-.5-.9l-.8-.7l.3 1l-1.4-.4l-.5-.4l-.9 .1l1.2 1l-.6 .7l.5-.4l1.1 1.5l1.4 .7l.9 0l-.9 .4l.3 1.8l-.5 .5l.6 1.5l-.2 .4l-.3 .3l-.2 .3l1.7 .2l1.8 .2l1.3 1.1l0 .8l.7 1.2l1.8 0l.8 1l1.8-.5l-.8 1.2l1.3 .7l-.6 1.7l-1.7 .4l-.9 1.5l-.8 1.3l.2 0l-.8-1l-1.7 .3l-.2 .6l1.8 .2l-.2-.1l-.2 .1l1.5-.5l-.2 .3l.7 1.3l1.8 .1l.6-.9l.7-.6l.5 1.7l-.3-.3l.8-1.2l.8 1l-.3-.2l1.6-.8l.5-.9l1.6-.4l1.5-.6l.4 .3l.3-1.8l.3 .2l1.1-.8l.1-1.8l0-1.8l-1-.8l.2-1.8l-.3-.3l.8 .7l-.3-.4l.7 .6l.3 .5l-.4-.5l.6 .5l-.4-.5l.7 .5l.5-1.6l-.2-.9l1.8-.3l1.7-.4l1-1.5l.5-1.6l1.7-.7l.7-1.3l1 .7l.9 .6l-.4-.9l-.3-.4l.2 .5l.7 .6l1.5-.8l.4 .3l-.8-.8l-.4-.3l-.3-.3l.1 .5l-.3-.4l-.2-.2l.3-1l.7 1.2" fill="none" stroke="#2182c9" stroke-width="1.2" stroke-linejoin="round"/>
<path d="M604.9 515.0l1.3 0l.1-1.3l0 1.3l0-1.3l0 1.4l0 1.3l-1 .3l1.2-.2l0-1.3l0-1.3l0 1.3l0 1.3l0-1.2l-.7 1.1l-1.9-1l-1.3 0l1.3 0l-.5-1.2l-1.1-.7l-1.2 0l.3-1.2l.2-1.1l.4 1.7l-1.2 .1l.2 1.4l-.8 .1l-.7 .5l-.3-1.2l1.7 1.7l1.4 0l0 1.3l1.3-.1l0 1.3l1.3-.8l0 1.1l.7 .5l-1.1-.8l-.2-1.6l1.3 0l-1.6-.7l1.3 0l-.1-1.4l1.3 0l0 1.3l0 1.3l.1-1.4l-1.3 0l.8 .9l-1 .2l0-1.4l-.1 1.3l0-1.4l-.9 .9l0 1.2l0 1.3l1.4-.4l-.2-2.3l.4-1.4l0 1.3l1.1-.1l0-1.3l1.3-.4l-.1 1.3l1.3 0l-1.3 0l-1.3 0l-1.3 0l0 1.3l-1.4-.2l0-1.3l1.3 0l-1.3 0l-1.1-.7l-1.2-.4l1.5 .1l0 1.3l-1.3 0l-1.2 0l-1.3 0l.2 1.3l-.7 1l-1.1-.1l.3-1.4l-1.1 0l1.5 0l-1-.7l.3-1.3l.5 .2l0 .2l1.7-1.1l-.2 1.2l1.8 0l-1.1 0l-.5 1.1l.1 1.2l.1 1.3l.3 1.1l-.8-.5l.4 1l.7-2l-1.1-.1l.9-1.3l0 1.3l1.5-.1l.1-1.4l-.5-1.2l.1-1.3l-1.2 0l-.7 .2l.9 1.5l-1.3 0l.1 1.3l.1 1.3l.3 1.1l1.8-.4l.3-1.6l-1.2 .3l-1.2-.1l1.1-1l1.3 0l-1.3-.1l-.9 .8l.1 1.3l.3 1.1l.6-1.8l.2-1.4l-1.1 .6l-.9-1l.1-1.3l-.6 .1l.8 1.3l1.4 0l1.2-.5l0 1.3l-1.2 0l-1 .8l1.5-.1l.1-1.4l1.3 0l-.1-1.3l1.4 0l1.3 0l-1.3 0l-.5 1.2l0-1.3l-1.3 0l.3-1.3l-1.3 .1l-1-.3l.5 1.5l1.3 .8l0 1.3l1.4 0l1.3 0l0 1.2l.1 1l-1.3-.9l.1 1.1l1.4 0l-.1 .1l0 .1l1.3-1.3l-.7-3l-1.1 .7l-1.3 0l-1.3 0l-1.3 0l1.2-.5l1.4 0l.6-1.2l0 1.3l0 1.3l1.4 0l-.1-1.4l-1.3 0l.4 1.3l1.3 0l.4-1.5l0-1.3l.4-1.1l-.3-.6l.5 2.5l-1.1 .8l0 1.3l1.3-.2l-1.3 .2l-.1 1.1l0-1.8l0-1.3l-.3 1.3l0 1.2l-.6 1l.3 1l-1.2-.9l.1 1.1l.2 .6l-1-1.1l-1.1-.3l.2 1l1.7-.6l1.5-.4l0-2.1l1.3 0l.3-1.1l-1.1 .8l-.3 .8l-.6-1.4l0 1.3l-.8 1l.1 1.1l-1.2-.5l.2 1l1.3-1.4l0-1.6l-1.3 0l.1-1.3l-1.3 0l-1.3 0l.1 1.3l-1.2 0l1.4 0l-1.3-.1l-1-.7l.2 1.3l1.4-.1l-.4 1.1l1.6-.1l.2-1.4l1.3 0l.2 1.2l-.7-1.1l.6-1.2l-1.3-.1l1.3 .5l0-1.3l.1-1.3l-1.3-.2l.2 1.4l.3-1.3l-1.2-.3l-1.1 .1l1-1l.3-1.1l1.6-.1l.7 2.8l1.4 0l-.7 1.3l0-1.3l0 1.4l0-1.3l1.3 0l1.2 .3l-.9-.9l-.3-.6l-.3 .5l1.2 1l0 1.3l0 1.3l-1.1-2.4l0 1.4l-1.3 0l.9 .8l-1.3 0l.5 1.2l-.4-1.3l0 1.3l-1.3-.1l.1-1.4l0-1.3l-1.2 0l1.6 .1l0-1.3l-1.2 0l.1-1.2l.2-1.2l-.8 1l-.8 1l-.9 .2l2.4 .3l.1 1.4l1.4 0l0-1.3l0 1.3l.9 1l0 1.3l-.7 1l.1-1.5l-1.3-.1l1.4 0l0 1.3l.1-1.5l-.7 1.1l1.3-.1l.1-1.5l0 1.3l0 1.2l-1-1.2l1.3-.3l-1 .7l-.7-1.2l1.3 0l-1.3 0l.1-1.3l1.3 0l0 1.3l-1.1 .7l1.4 0l0-1.4l0-1.3l.5-1.2l-.1-.7l-1.5 1.5l.8-1l1.4 .4l-.1 1.4l-1.3 0l0-1.3l-1.2 .2l-1.3 0l1.4 0l-.4 1.3l0 1.3l1.4 0l-1.3 0l-1.3 .3l1.1 .7l.8 1l-1.2-.2l-.8-1.1l1.3 0l1.4-.1l.5-1.2l0-1.3l-1.3 0l1.3 0l1.3 0l0-1.3l-1.4 .2l0 1.6l1.3 0l-1.3 0l1-.8l-1.3 0l1.3 0l-.4 1.3l0 1.2l-1.4-.2l0 1.3l-1.2-.2l0-1.4l-1.2 0l-1.3 0l1.3 0l.1 1.3l.2 1.2l-1-.3l-.8 .5l1.7-.3l1.5-.3l-1.2-.2l.2 1.1l-1-.4l-1-.3l.3-1.6l1.4 0l-.1 1.3l-1 .4l-1-.3l.3-1.5l1.4-.1l0 1.2l.7-1.3l0-1.3l.1-1.3l-1.3 0l1.8 .2l1.3 .2l0-1.3l1.4 .2l-1.5 .4" fill="none" stroke="#2182c9" stroke-width="1.3" stroke-linejoin="round"/>
<path d="M613.7 505.2l0-1.3l0-1.3l-1.3 .6l1.4 .2l0-1.2l.9 1.7l0-1.3l1.1 .5l-.7 1.4l-1.5-.3l0 1.3l-1.3-.3l.9 .9l-1.1-.2l-1.2-.1l-.5-1.2l-1 .1l-.2 .9l1.3 .8l.5 1.1l1.4 .1l.8-.3l-1.1-.9l.2-1.1l0-1.3l-1.3 0l1.4 0l0-1.2l.1 1.6l-1.2 0l1.2 .6l-.9 .9l-1.2 0l-1.1-.5l1.7-.1l-1.3 0l.3-1.3l-.1 1.4l1.5-.1l-1.3 0l.2 1.3l2.3-.8l.2-1.4l0-1.3l.1 1.6l-1.3 0l.1-1.3l1.1-.7l.2-.8l1.5 .7l-.5 1.7l0-1.3l0 1.6l-1.3 0l0 1.3l.9 .6l.1 1.2l0 .5l0-2.6l.8-1l-1.3 0l0-1.3l-.7-.9l.3-.7l1.6 1.8l-.9 1.1l0 1.3l-.9 .9l2.3-1.5l-1.3 0l.2 1.3l1 .7l-.1-1.5l1.3 0l-1.4 0l1.3 0l0-1.3l-1.7-.8l1.2 .1l1.2 .1l-.9-.3l-1.5 .2l-1.3 .1l-1.3 0l-1.2 0l.2-1.2l-1 .3l-.9 .2l2 .3l.2 1.4l-.5 1.1l1.4-.5l1.2-.4l.9-1l1.2 0l-1.3 .1l-1.3 0l1.3 0l-1.3-.1l1.3 0l.9-.9l1.2 .2l-.3-1.1l-1.7 .6l.1-1l1.2 1.1l.2-1l-.5-.5l-.4 2.6l1.3 .2l-1.3 1.8l-1.3 0l.2-1.7l.1 1.4l0 1.2l0 .9l.1-2.4l0 1.3l0 1.1l0 .3l0-.1l.1 .1l0-2.6l0-1.3l1.1 .6l-.3 1.4l-1.2 .7l.1 .8l1.2-1.8l-1.3 0l.4-1.4l-.7 1.1l-1-.2l-1-.8l-1.1 .3l1.7 0l-1.2 0l1.5 0l.4 1.3l2.7-1.5l-1.4 1.3l.8 1l1.3-.2l-.1 1.2l.7-1.3l1.2 0l-.2 1.2l-.6 .9l.6-.8l-.5 .9l-.7 .4l.5-1.3l-1.6-.4l-.2-1.6l1.3 0l0 1.3l-.7 1l1-.6l-.3 1l-1.8-.8l.2-1.9l-1.3 0l.2-1.7l.5 1.3l1.3 0l0-1.4l1.1 .1l-1.1 1.7l-.1 1.3l.2 1.1" fill="none" stroke="#2182c9" stroke-width="1.3" stroke-linejoin="round"/>
<path d="M603.2 526.2l0 1.3l0 1.3l0 .7l0 .1l-1.3-1.3l-.7 .8l-1-.5l-1.1-.2l-.2 .9l.8 .8l1.7-2l.1 1.2l1.6-.7l.7 .7l-.2 .4l.5-.3l-.2 .5l-.3-2.8l-1.3 0l1.3 0l-1.3 0l-1.3 0l-1.2 0l-1-.1l-.7-.1l0-1.1l.3 1.3l1.9 .5l.3 1.2l.3-1.5l1.3-.1l-1.2 0l1.3 0l-1.3 0l.1-1.4l0 1.3l.4 1.3l.5-1.4l1.4 0l.3-1.3l.5-1.2l.6 1.2l-.1 1.3l1.1-.1l-3.1-.5l0-1.3l1.2-.4l0-1.2l-.1-1l1.2 .7l-.2 1.6l-.5-1.2l1.2 .2l.8 1.1l1.1 .5l0-1.3l-.3-1.2l.9 .4l-1.8 .3l-.2 1.5l.6 1.1l-.6 1.3l-1.7-2l-1.3 0l0 1.3l0-1.3l1.3 0l1.2-.6l-.4 1.3l-1-.9l0-1.2l-.1 1.4l-1.3 0l.3-.9l-1.3 .4l1.4 2.5l-1.3-.1l0 1.3l1.5-.4l-1.3-.5l.1-1.4l-1.3 0l-1.2 .2l1.5 0l-.4-1.2l-1.2 0l1.4-.4l1.3 2l1.3 0l.5 1.2l1.2-.2l-1.5-.1l-.3-1.4l-.5 1.1l-.8-1.1l-1.3 0l1.4 0l1.3-.4l1.3 0l-.1 1.3l-1.4 0l-1.3-.1l.1-1.3l0-1.3l-.3 1.5l0-1.3l2.6 1.3l1.3 0l-1.5 0l1 .8l-1.7-1.9l-1.3 0l2.5 1.4l-1 1.1l0-1.3l-1.3 0l1.3 0l.3-1.3l-1.3 0l-1.2 .3l.5 1.6l-1.3 0l.1-1.3l-1.2 .2l-1.1 0l1.3-.7l.3-1.2l.9 0l.8 2.5l1.3 0" fill="none" stroke="#2182c9" stroke-width="1.3" stroke-linejoin="round"/>
<path d="M609.6 521.0l.2 1.3l-1.2-.5l-.7 1.1l1.4-.1l0-1.5l-1.3 0l-.2 .6l.5 1.2l1.4-.2l.6-1.5l-1.3 0l-.3-1.3l0-1.2l.2 1.8l-1.3 0l1.5 0l0-1.3l-.1-1l.3 2.4l-1.3 0l0 1.3l1.4 0l-.3 1.2l-1.2-.4l-1.2-.1l-1-.4l.3-1.1l1 .9l1.6-.1l0-1.4l0-1.3l.1 1.5l-1.2 0l.2 1.3l.1 1.3l1.1-1.2l0 1.2l1.5-.5l.1-1.8l0 1.3l-.2-1.6l.5-1.2l.1 1.6l-.2-1.3l1.1 .1l-1.4 .1l-1.3 .5l-1.3 0l1.4 0l0 1.3l.8 1l-.1 .9l-1.3-.6l1.5-.3l-.1 .8l-.2-2.4l1-.9l0 1.3l0 1.2l.9-.7l.6 .1l-2.4-.6l1.3 0l-1 .9l-1.2-1.1l1.3 0l1.3 0l-.5 1.1l-.5-1.9l0 1.3" fill="none" stroke="#2182c9" stroke-width="1.3" stroke-linejoin="round"/>
<path d="M708.4 500.4l0 1.3l0 1.3l1.3-.2l-1.3 0l1 .7l-1.4-.1l-.4 .7l.2-2.4l.1-1.3l-1.3 0l-1.3 0l-1.3 0l-1-.3l1.6 0l1.4 0l1.3 .3l-1.3 0l.5 1.2l0-1.3l-.4-1.2l-1.3 0l-1.2-.4l1.4 0l.1-1.3l.2 1.4l-1.3 0l-.4 1.3l-1.1-.1l1.5 .6l1.5 0l-1.2 0l1.5 0l1.3 0l0-1.3l-1.2 0l-1.3 .3l.1-1.3l-1.3 0l.2 1.4l.1-1.3l.2 1.4l.1 1.3l.3-1.4l1.4 .1l1.3 0l-.1 1.3l-.2-1.3l1.3 0l.1-1.3l.2 2.5l0 1.3l1.3-.1l-.1 1.3l0 1.2l-1.1-1.2l1.3-.3l-1 .8l0 1l-.1 .5l1.3-1.1l-.3 1l-.2-1.8l0 1.2l-.4 .9l-.5-2.2l0-1.6l-1 .9l-1.2-.2l-1.2-.1l-1.1-.1l1.7 0l.1 1.2l.3 1l1.7-.8l-1.1-.8l.1-1.4l0 1.2l.1-1.4l0-1.3l0 1.3l0-1.3l0-1.3l0-1.3l.9 .3l.4 3.1l1.3 .2l-1.4 0l1.3 .4l-1.1-.8l1.3 0l0 1.3l1.3-.1l-.6-1.6l0 1.3l-1.6-.2l-1.3 0l-1.3 0l1.4 0l0 1.3l1.4-.1l-1.3-.1l-1.2-.5l0 1.3l.2-1.5l-.3-1.3l1.3 0l-.4 1.3l.1-1.4l1.3 0l-1 .8l0-1.3l1.2-.1l0-1.3l-1-.7l1.7 1.7l1-.8l0-1.3l1.2 .2l-1.5 .1l.8 1.1l1.3 0l-.1 1.4l-1.4 0l-1.2 .4l1.3 0l-.1 1.3l0 .9l-.4 .9l-.1 1.1l1.1-.3l-.5 .6l1.1-.5l.2-.6l-1.3 0l-.5-1.6l1.1-.2l-1 .7l-.7 1l-1.4-.2l.8 .7l1.2-.3l-1.4-.2l1.3-.2l.4 1l-1.5-.4l1.2-.3l1.2-.2l-2.1-.6l0-1.3l-.1-1.4l1.3 0l1.3 0l1.2 0l1.1 0l-.3 1.3l-1.1-1.5l1.2 0l-.4-1.3l-1.5 0l-.1-1.3l1.2 .2l-.2-1.2l-1.7 .2l-1.5 .3l-1.4 .2l-1.3 1l.3 1.8l-.6-1.2l0-1.3l-.4 1.6l0-1.3l1.5 .2l-1 1.8l-.8 1l1.4 0l1.3 0l0 1.3l-1.3 0l0-1.4l0 1.3l1.4-.1l1.2 .1l-1.4-.2l.8 1l0-1.4l-.1-1.3l-1.3 0l1.3 .4l0 1.3l-.1-1.4l1.3 0l-1.3 .3l0-1.3l1.3 0l-1.3 0l1.3 0l0-1.3l1.1-.6l-1.5 .2l-.3-1.2l-.1-1l-1.6 .9l-1.2 1.4l.9 .3l-1 1.7l.7 1.1l0-1.3l-1.3 0l0-1.3l1.3 0l1.1 2.5l-1.3 0l0 1.3l.7 1.1l-1.3-.4l.1-1.5l-1-.9l-.9-.8l1.3 0l0-1.3l-1.2 .1l0-1.3l-.6 1.2l.1-1.2l.2-1.2l.8-.3l.9 2.9l.5-1.2l.7 2.9l1.3 0l-.8-1l1.3 .2l0-1.3l1.3 .1l-1.4 0l0 1.4l-.3 1.3l1.3-.1l0-1.3l-.1 1.3l1.1 .6l-1.7-.1l-1.4-.1l0 1.3l-1.3-.2l1.3-.1l1.2-.6l-1.3-.1l0-1.3l-1.3 0l1.3 0l.7 1.1l-1.2-.7l1.3-.3l0-1.3l0-1.3l-.1 1.4l-1.3 .1l.1-1.3l-.7 1.2l0-1.3l.9 2.9l.7 1.1l0 1.3l-1.3-.2l-.2 1l-.3 .1l.4-2.2l-1.3-.1l1.4 0l-.1 1.3l-1.2-.4l-1.2-.1l.3 1.2l.3 .9l1.8-.7l.3 .3l-1-1.4l1.4-.2l-1.3-.3l.7-1.2l.6 1.1l.5-1.3l0 1.3l0 1.2l1.1-1l-1.3-.1l0 1.2l-.8-1.5l0-1.4l-1.2 0l0 1.3l-.5-1.2l.1 1.3l.1 1.2l-1.1-.2l1.5-.2l-1 .4l.2-1.5l.1 1.2l.2 1.2l-.8-1.2l-1-.2l1.7-.3l.1-1.4l-.1-1.3l1.3 0l-.5 1.2l0-1.3l-1.3 0l-1.2 .2l0 1.4l1.7-.1l1.3-.4l.6 1.2l.5 1.1l1.3-.3l-1.2 .4l0-1.6l1-.9l-1.3 0l0 1.3l-1.1 .6l-1-.9l1.4 0l0-1.3l0 1.3l1.3-.1l-1.3 0l-1.3 0l1.4 0l0 1.3l-1.2-.3l1.4-.1l.1 1.1l1.5-.8l1.2 .1l-.1 1.1l-1.4-.2l1 .5l-1.4-.2l-.7 .6l-1.1-1.7l.8-1.3l0-1.3l-1.3 0l-1.3 0l.7-1.2l1.2 .4l-1.3 0l1.4 0l-1.3 .1l1.3 0l-1.3 0l0-1.3l.1-1.3l1.6 .4l.9 3l.9-.9l0 1.3l-.3-1.3l1.2 .5l-1.3 0l-1.3 0l1 .8l1.3 0l-1.3 0l0-1.3l0 1.3l-1.3 0l-1.1-.7l1.2-.6l0-1.3l.4 1.9l0-1.3l-.7 1.3l0 1.3l1.3-.1l-.1-1.3l1.3 0l.1 1.3l1.2 0l.8 .6l.3-.7l-1.6 .1l-.2-1.4l0 1.3l-.2-1.4l0-1.3l1.3 0l.2 1.3l1.2-.4l.6-1l-.1-1.3l.9 .8l.5-1.1l.9 .3l-.5-1.1l.4-.4l-2.1 .5l-.4-.9l-.7 2.1l1 .7l-.3-1.3l-1.6 .3l-1.5 .2l-1.4 .2l1.5 1.8l0 1.3l-.1 1.3l-.4-1.3l0-1.3l0-1.3l-.1-1.2l-.1 1.8l1.3 .1l1.3 0l1.2 0l-1.1-.8l1.2-.2" fill="none" stroke="#2182c9" stroke-width="1.3" stroke-linejoin="round"/>
<path d="M692.6 498.7l-1.3 0l.1-1.3l0 1.3l.1-1.3l1.3 0l.5 .8l1.3 0l1 .1l.5 .1l-1.7 1.1l-1.5 0l0-1.4l0 1.4l1.3 0l-1.3 .5l-.7 1.1l.1 1l.1 .6l-.4 .1l.2-.1l-1.2-1.2l-.4-1.6l1.6 .4l.5-1.3l0-1.3l.8 0l1.2 .1l-.5-1.1l.3 1.2l-.4 1.5l-1.3-.1l.8 1l-1.4-.1l1.4-.1l1.2-.1l-.5 1l-.3 .8l-.3 .7l.8-1.7l.5-1.4l-.2 1.3l.6-.7l.7-.3l.7-.1l-.7-1.5l-.2 .3l.3 .5l-.5-1.3l-2.8 .5l0-1.2l-1.6 1.6l.1-1.3l-.2-1.2l-.2 2l-1.3 0l-1 0l.6 1.4l1 .7l1.6 .3l1.4-.2l0-1.4l-1.3 0l0 1.3l-1.2-.1l2.8-1.1l0 1.3l-.1 1.2l-1.4-.3l-.8 .6l.1-.3l-.8-1l2.7-1.2l0-1.3l-.1-1.2l-1 .5l.1-.9l1 2.9l1.1-.6l-1.4 0l-.9 .9" fill="none" stroke="#2182c9" stroke-width="1.3" stroke-linejoin="round"/>
<path d="M639.1 507.5l1.3 0l1.3 0l-.4 1.3l-2.1-.5l1.3-.1l1.1-.1l-.3-1.4l-1.7-.7l-1.6 2.5l2.6-1.2l-1.4-.3l1.3 .3l-.2 1.3l-1.9-.7l-1.2-.1l.9-1.4l1.4 0l.6 1.2l1.3 0l1.1 0l-.9-1.3l-1.7 2.1l-.3 .9l-.2-2.1l-1.3 .1l.1-1.3l.1 1.4l-.7-1l.1-1.2l.3 1.7l-1.3 .1l1.6-1l.1-1.2l1.6 1.1l-.3 .5l-.9 2.9l1.4-.2l-2.3-1.3l.2 1.2l1.9-2.5" fill="none" stroke="#2182c9" stroke-width="1.3" stroke-linejoin="round"/>
<path d="M742.6 502.2l0 1.3l1.3-.1l1.1-.2l-.5 1.1l.5-1l.8-.2l-1-1.6l-1.7-.7l-1.4 .1l.1-1.2l-1 .8l-.3 .9l3 .6l-2.7 .3l.3-1.3l.7-.7l.2 1.6l.5-1.1l0-1.2l1.3 .8l-1.3 .8l1.3 .1l-.1 1.3l-1.3 0l1.3 0l-.1 1.3l1.1-.2l-.6-1.7l-.5 .2l-1.2 1.3l1.1-.8l0 1.3l-.5 .8l-.2 .3l-.7-2.5l-.6 1.1l-.6-1l.2-1.3l2.9 .8l-3.1 0" fill="none" stroke="#2182c9" stroke-width="1.3" stroke-linejoin="round"/>
<path d="M717.2 498.7l0-1.3l-.9 2.1l2-2.4l1 .4l.6 .4l-3 .5l-1.3 0l0 1.3l2.4-2l-.1 1.4l0 1.3l-.1-1.6l-1.3 0l-1.3 0l-1.3 0l.3 1.3l.4-.3l3-.7l-1.3 0l-1.2-.1l0-1.3l.2 1.4l.1 1.3l2.6-1.3l0 1.3l-1.5-.3l-.5-1.6l0 1.3l1.4-2.6l-.2-.1l1.3 1.8l-1.3-.4l0 1.3l-1.2 .3l1.2-2.7l1.2 .8l-1.5 .1l-1.2 0l1.3 0l-1.1-.6l-.7-.7l-.1 1.5l-1.2 0l-1 0l-.7 0l.3-1.1l-.3 .8l-.4 .1l-.1 .1l1.9 1.2" fill="none" stroke="#2182c9" stroke-width="1.3" stroke-linejoin="round"/>
<path d="M676.0 503.1l-1.3-.2l1.2 .7l1.3-.3l1.2 0l-.9-1.4l-1.1 2.1l-1.2 .4l2.2-1.5l-1.6 0l0-1.3l-.4 3l-.7-1.7l-1.1-.4l1.9 .1l-1.3 .1l.2 1.3l-.8-.3l-.6-.2l-.1-.2l1.7-1.3l.3 1.4l-1.3 0l.6 1.2l0-1.2l.2 1.3l1.2 0l-.9-1.8l-1.2 0l-.6 0l2.5-.3" fill="none" stroke="#2182c9" stroke-width="1.3" stroke-linejoin="round"/>
<path d="M717.2 482.0l1.2 .4l0 1.3l-1-.1l-.2-3.1l0 2.4l1.3-.4l-1.3 0l-.8-1.1l-1.1-.7l.3-1.1l1 2.8l1.2 .7l-1.6-.4l.2-1l0 1.3l2.4-1.4l-1.7 1.7l.1-2.9l0 .1l0-.2l-.7 2.7l-.2-1.5l0 1.3l1.4-2.5l.8 1.8l-1.3 0l-.1 1.3l-1.2-1.8l-.5-1.2l-.9 .3l-.8-.1l1.6-.7l.8 2.2l1.3 0l-1.3 0l-1.3 0l1.4 0l.6-1.2l-1.2 .7l-1.2 0" fill="none" stroke="#2182c9" stroke-width="1.3" stroke-linejoin="round"/>
<path d="M621.6 507.1l0-1.3l-1.3 1.8l.1 .4l2.8-1.1l-2.6 .2l0-1.3l-.5 1.1l-1.2 0l.6-1.2l1.4-.4l1.9 1.7l-.6 1.3l1-.5l-.3-1.5l-.3-1.1l-.9 2.9l1.3-.1l.9-.2l.5-.1l-1.7-1.7" fill="none" stroke="#2182c9" stroke-width="1.3" stroke-linejoin="round"/>
<path d="M745.5 399.9l1 .9l.6 1.1l0 1.3l-.1-1.5l1.3-.1l0-1.3l1.1 0l-1.2 1.1l.1-1.3l-.4 1.3l0 1.3l.3 1.2l1.2-.2l-.1 1.1l-.3 .9l.6-1.4l-1.4 .4l-.3 .7l-1.4-2.2l-.1-1.7l0-1.3l1.2-.4l-.7-1.3l1.2 .1l1.1 .2l.2 .3l-3 .4l-1.3-.4l0-1.3l0-1.3l-1.3 .1l1.2-.6l0-1.1l1.4 .4l-.1 1.8l-1.4 .1l-1.3 .1l1 1.1l-1.3 0l-1.2 .1l-1 .1l.2-1.2l0-.4l.9-.7l-.9 .4l.9 2l-1 .5l.1-1.3l.6-1l-.7 .4l.9 1.9l-.9-.8l1.7 .1l1.5 .1l1.3 0l0 1.3l.8 1.1l0 1.3l-.1-1.4l-1.3 0l-1.3 .1l-.9-.2l.2-1.4l-1.2 0l-.3-1.3l1.8 .1l.1-1.3l.1-1.1l.5 1.4l-1.2 .1l.2-1.1l-.1 1.5l.7 1.4l-.1 1.3l-1.2 0l-.5-1.2l.1 1.3l.2 1.3l1.5-2.2l-1.2 0l-1.3 0l-.7 1l-1 0l1.7-.1l1.5 0l.1 1.3l2.1 .1l.1-1.5l0 1.3l-1.3-.1l.4 1l.2-1.8l.1-1.4l1.4 0l0-1.3l1.3 0l-.2-1.1l-.1-1l-1.5 .4l.5 1.4l-1.3 0l0-1.2l-.5-1.1l.1-1.1l1.3 1l0-1l1.2 0l.9 1.7l.9 .7l-.8 2.2l-1.4 0l1.3 .1l-.2-1.3l1.1 .3l-1.7 .3l-1.4 .1l.6 1.1l0-1.3l1.3 0l-.1-1.1l-.2 1.6l-.1 1.3l1.3 0l-.3-1.3l0-1.2l-1.7 .4l0-1.3l1.3 .2l-1.6 .4l0-1.2l0 1.5l0 1.4l-1.3 0l1.3 0l-1.3 0l0 1.3l-1.2-.5l1.3 0l1.3 0l0 1.3l1.3 0l0-1.3l-.2 1.3l-1.3 0l0 1.3l0-1.6l1.3 0l1.3 0l0-1.3l-1.2 1.5l1.3 0l-1.4 0l1.3 0l1.3 0l-.7 1.1l-1.4 0l0 1.2l-.1 1.1l-.3-2l0 1.3l-.2-1.8l-.2 1.3l1.2-.3l1.1 .5l-.1-1.4l-.3 1.2l-1.4-.1l1.2-.2l-.1 1.3l1.1-.5l1.2-.1l-.1 1.2l1-.3l-.3-1.5l1.1 .2l-.2 1.2l-.3-1.5l-.2-1.4l-1.8-.1l.5-1.2l-1.8-1.4l.8-.1l-1.2-.9l.9 .5l.6 .3l-2.5-.3l-1.4 .1l1.3 .1l-.1 1.3l-.3 1.3l1.3 0l-.1 1.3l0 1.3l-1.4-.3l-.2-1.8l.4-1.3l0-1.3l.9 .9l1 0l-1.9-1.1l0-1.3l-.1 1.5l0-1.3l-.1-1.2l0-1l-1.4 .4l1.3 .2l-.1-1l0 1.8l1.1 .8l1.1 .3l-.5-1l.8 .6l-1.6 1.5l-.2 1.3l0 1.3l.7-1.1l0 1.3l1.3-.1l-1.4 0l0-1.3l-1.3 0l0-1.3l0-1.3l0-1.2l.8-.8l-.2 1.9l-.1 1.4l1.3-.1l1 .1l-2.9 .3l-1.2-.4l0-1.3l1.3 0l-1.3 .1l0 1.3l0 1.3l0 1.3l1.4-.2l1.2 0l-1.3 0l1.3 0l0-1.4l0 1.3l-1.3 .4l-1.2-.6l1.3-.1l0 1.3l-1.3-.2l0 1l1.5-.8l1.2-.2l0 1.3l-1.5-.3l-.1-1.8l0 1.3l0 .9l-1.4-.6l-1.1-.7l.4 .7l.4 .5l1.6-1.1l1.3-.3l-1.3-.3l.9-1l-1.3 0l0-1.3l-1.3 0l.5-1.2l1.3 0l0-1.3l-1.4 .1l.1-1.2l1.2-.3l0 1.7l-1.2 .6l0-1.3l0 1.4l0-1.3l-1.3 .1l.1-1.2l-1.2 .3l.2-.9l.5 1.7l1.4 .2l0-1.2l.1 1.5l-1.3-.2l-.6 1.2l.2-1.2l1.5 .4l-1.3 .1l.2-1.2l1.4 .4l1.3 0l0-1.1l1.3 .3l1 .6l-.8 2.2l-1.4 0l-1.3 0l0 1.3l0 1.3l-1.2 .2l.4 .9l.2-1.8l.2 1.2l-1.2-.2l2.1-.6l0 1.3l0-1.7l-1.3 0l.2-1.4l1.3 0l0-1.3l1.3 .1l-.1 1.4l.1 1.3l0-1.3l-1.3-.4l-1.3 0l-1.2 0l-1.3 .3l.1 1.3l-1-.1l.3 1.3l.3-.7l2.2 .1l-.7-.8l-1.3 0l1.5-.1l.1-1.3l-1.3-.1l-1.2 0l-1.1 .1l1.6 0l1.4 0l-1.2 0l-1.2 .1l1.5 0" fill="none" stroke="#2182c9" stroke-width="1.3" stroke-linejoin="round"/>
<path d="M742.4 411.3l-1 .8l-1.3 .4l.2-1.4l.7 1.1l1.3-.2l1.3 0l1.3 0l1-.1l-.6-1.4l-.1-1.3l-.1-1.2l-1.3 0l1.2 .2l1.3 0l-.3-1.2l.9-.6l-.3-1.1l-1.5 .4l-1.6 .5l-.4 .5l-1.6 1.8l-.1-.7l.8 0l0 2.1l1.3 0l-1.3 .1l-1.2 .2l-1.2 .5l0 1.3l.1 1.3l-.9-.3l.4 1.1l.6-2l.1 1.2l1.6-.3l.4-1.2l0-1.3l1.3-.2l1.3 .1l0-1.3l-1.4 0l0-1.3l1 1.2l0 1.4l0-1.3l-1.4 0l.9 1l0-1.3l1.3 .1l.5-1.1l0 1.3l.5 1.2l1.1 .1l-1.2-1l-1.4 0l-.3 1.3l1.3 0l-.2-1.2l-.1 1.3l-.1 1.3l.9-.1l.5-.1l.4-.2l-1.1 1.2l.1-.5l-1.7 .8l-.2 1.1l-.1-1.5l-1.4-.1l0 1.3l-1.3-.2l1.3-.1l-1.3-.1l0-1.3l-1.2-.1l-.3-1.3l-1.2 0l-1.2 .1l.4-1.3l1.4 .4l-1.2 0l-1.1 0l1.4-.7l.1-1.2l-1 .7l1.6 .1l.1-1.2l-1.1 .2l.2 1.5l1.5 0l0 1.4l.1-1.3l0 1.3l-.5-1.1l-.8-1l-1.2 .1l.7-1.1l.2 1.5l1.5-.1l.6-1.1l.9 1.3l0-1.2l1.4 0l1 0l1.3 .2l-.1-1.3l-.8 1.2l0-1.2l-1.5 .4l1.3 1.2l-.1 1.3l0 1.4l0-1.3l0-1.3l-1.3 0l-1.3 .3l-1.3 .1l1.1-.8l.1-1l.5 .2l1.6 1l1.2 .3l1.3 0l-1.4 0l0 1.4l1.3 0l-.1-1.3l1.2 .1l1.1-.1l.5-.7l.8 .3l-2.2 .4l-.2-1.2l-.1-1.2l-.2-1.1l-1.6 .5l1.1 .4l-.2-1.1l-.2-.8l-1.9 1.2l-1.6 1.8l.1-.2l1.4 1l-.1-1.1l-1.5 1.2l.4-.7l.1 2.2l.8-.9l0 1.4l-1.3 0l0-1.3l1.4 .3l-1.3 0l1.3 .2l1.2-.6l1.2 .2l1.2 .1l-.2-1.2l-1.5 .1l0 1.4l-1.4 0l0 1.3l0-1.3l.4-1.2l0-1.2l-1.5 .3l1.1 1.8l1.3 0l0-1.2l1.2 0l-.1 1.4l-1-.9l1-.7l.4 1.3l1.1 .1l-.4 1.5l-.3 1.3l0-.2l.2-.2l.1-.1l-1.1 1.3l-1.3-1.9l-.1 1.3l-.3 1.2l1.1-.2l-2.3-.6l1.3-.1l-.3 1.1l-.1-1.4l1.1-.1l.6-.8l-1.6 0l1.1 .5l-.4-1.3l-.1-1.3l-1.3 0l-1.3 0l-1.3 .2l1.3 0l0-1.2l-1.2 .5l0 1.5l-1 .7l0-1.3l-1.3 0l1.4 .1l.1-1.3l-1.1-.5l-1.1-.1l.1 1.5l.1 1.3l.2 1.4l1.6-.1l.1 1.3l.3-1.6l-.5-1.2l-1.2 0l-1.2 0l1.6 .1l1.4 0l0-1.3l1.3 0l1.4 .3l-.4 1.2l-.7-1.1l.1-1.2l-1.3 .4l-.5 1.3l.9 .9l0 1.3l-1.2 0l-1.2-.1l.2-1.3l1-1l.4-1.2l0 1.4l1.3 .5l0-1.3l-1.3 .2l0-1.3l1.5 .2l1.3 .5l1.3 0l1.3 .1l-.1-1.3l-.1-1.2l1 .9l-.2 1.4l1.1 .1l-1.7 .2l-1.4 .1l1.3 0l-1.3 .6l1.3 .1l-.1-1.3l-.1 1.4l1.2-.1l-.3 1.4l-.6 1.3l-1.3 .8l-1.6-.2l1.1 .6l1 .5l-.5 .8l1.1-.4l.3-1l-2.1 .1l.1 1.2l1.2-.5l.7-.3l-1-2.4l-1.6-.1l0-1.3l-1.3 .1l0 1.3l-.9-.9l1.3-.1l0 1.3l-1.3 0l1.3 0l1.3 0l.9-1l-1.4-.1l1.3 0l-1.1-.7l0 1.3l.7 1.1l-1.5-.2l-1-.7l-1.3 0l-1.3 0l1.5-.1l-1.3 0l.2-1.3l-1.3 0l-1.1 0l.4 1.4l1.8-.1l.1-1.3l.1-1.3l.3 1.3l-1.2 .1l1.4 0l1.4 0l-1.3 0l1.3 0l0-1.3l-.5 1.3l0 1.3l.3-1.3l-.2 1.3l0 1.3l-1.2-.2l-1-.2l.4-1.4l-1.1-.1l1.5 0l.1 1.3l.2 1.2l1.9-.5" fill="none" stroke="#2182c9" stroke-width="1.3" stroke-linejoin="round"/>
<path d="M744.1 424.5l0 1.3l-1.2-.4l-1.3 0l.2-1.4l-1.2-.5l-1.1 0l-1 .1l0-1l1.1-1l2.1 .5l.2-1.1l1.5 .3l1.3 0l1.3 .1l-.1 1.4l1.1 .2l-1.5 1.5l-.1-1.3l1.2 0l-.5-1l-.9-.8l1.2 0l-1.3-.4l-1.3 0l0 1.3l0 1.3l1.3 0l0 1.4l-1.3-.1l-.6 1.2l-1.1 .6l1.3 0l0 1.2l-1.2-.3l.1-1.5l-.7-1l-1.1-.1l.4 1.2l1.6-.1l0 1.3l.1-1.5l0 1.3l1.3 .4l-1.3 .1l.1 1.1l.2 .7l.2-2.3l.1 1.2l-.1 .8l.8 .3l0-2.1l1.3-.2l1.3 0l-1.3 0l-1.3 0l0-1.5l1.3 0l0-1.3l.8 1l1.2-.1l-.4 1.2l1.2 0l-.8 1l0-1.3l-1.4-.1l0 1.3l0 1.3l1.2 .2l1.3-.1l-1.4-.1l-.1-1.3l1.1-.7l-.1 1.2l1.2 0l1.1-.2l-.7-1.6l-3-.6l.3 1.3l-1.3 0l0-1.4l-.4-1.2l0-1.3l0 1.3l-1.3 0l-1.2-.5l0 1.3l0 1.3l.4 1.2l.1 1.1l.1-1.8l1.4-.1l0-1.3l1.3 0l-.1 1.3l0 1.3l1.3-.1l0-1.3l1.3 0l-.3 1.1l-.1 1.3l-1.4-.1l0-1.4l1.2 .2l-.8 1l1.2-.1l.5 1.1l-.1 1.1l1.1-.2l-1.5-.2l.4 1l1.1-.3l-.2 1.1l-.3 .9l1-.6l-.4 .9l-1.6-.6l-.3-1.8l.6 .8l.2 .9l1-.5l-.2-1.7l-.9 .9l-.2 1l1.1-.4l1-.4l-.3-1.7l-.6-1.5l-.5-1.4l-.4 1l.2-1.3l-.5 1.1l1.2 0l-.3-1.5l-2.5-.4l-1.2-.5l.8-1l-.4-1.3l-1.5 .2l1.3 .2l1.1-.1l-.5 1.5l-.3 1.3l.4-1.3l1 .1l-1-1.5l-.4 1.4l-.1-1.3l-.2 1.4l0 1.3l0 1.3l1.3 0l-.1 1.2l0 1.3l1.2-.2l1.2 .2l1.1-.2l-.4 1l1.1-.5l.8-.4l-.2 .6l.5 .1l-.7-1.9l-2.4-.7l-.2 1.2l-1.4 0l-1.3 .4l-1.3-.2l-1.4-.4l1.4-.8l-1.3-.1l-1.3-.4l.1-1.5l.1 1.3l1.2 .4l1.3 .2l-.6-1.3l-1.3-.1l-1.2-.1l0 1.3l-1-.9l1.5-.4l-1.2 0l-1.2-.1l1.5-1.4l-1.1 0l1.8-.1l1.4 0l-1.3-.1l.1-1.3l0 1.3l.1 1.3l-1.2 .4l-1.2-.1l1.2-1.5l1.6 0l.4-1.3l-.3-1.2l.1-1.3l1.2-.5l0 1.3l-.1 1.4l0-1.3l1.3 0l-1-.8l1.3 0l.9 1l-.6-.8l-1.4 .2l-1.3 0l-1.3 0l1.4 .2l-1.3 0l1.5 .2l1.3 0l-.7-1.1l-1.2 .5l-.6-1.1l.1-1.2l-1.3 .2l.4-.7l-1.2 .4l.9 2.5l.4-.9l.2 1.7l-1.1 .1l.8-1l.3-.9l1.4 .2l-1.3 .1l.2 1.5l.1 1.4l0 1.3l-1.2 0l.7-1.3l1.2-.6l1.3 .1l1.3 0l-.1 1.4l.5 1.1l1.2 0l1.2-.1l-1-1.6l-2.6 .1l-1.3 0l1.3 0l-1.2 .7l0-1.3l0 1.3l0 1.3l1.3-.1l-1.3 0l0-1.3l-1.3 0l-1.2 0l1.5-.1l-1.1 .6l-1.1 0l.5 1.1l.2-1.4l-.6-.9l.1 1.3l-.4-1.1l-.1-1.2l.2-1.2l.5-1l.1-.5l.6-.5l.3 1.7l.8-.9l-1.3 .1l.4-.8l.8 1.6l0-1.2l-1.2 .1l.4 1.8l-.5-.9l.4 1.8l-1.2 0l.2-1.2l.4 1.6l.9-1l1.5 .1l1.3 0l0-1.3l-.3 1.3l1.2 .4l-.1-1.2l-.6 1.3l1.3 0l-1.7 .2l1.2-.6l-.2-1.1l1.3 0l-2 .7l-1.3 0l.4 1.3l-1.2-.6l.1 1.3l1.3 0l0 1.3l1.3 0l-1.3 0l1.3 0l0-1.3l-.1 1.3l0-1.3l-.1-1.3l0 1.3l-.1-1.3l1.1-.6l0-.9l-.2 1.5l-1.5 .8l0-1.3l0-1.3l-1.3 0l0-1.3l.1-1.2l.3-1.2l0 1.5l-1.3 .1l.1 1.5l-1.2 .6l-.9 .5l.5 1.7l1.5 0l-1.3 0l.1-1.3l1.5 .7l0-1.2l-1.2 .1l.3 1.6l.1-1.3l-1.1 .2l1.6 .2l-.9 1l1.3 0l-1.2 .4l-1.2 0l.2 1.3l1.8-.1l1.1-.8l0-1.3l-.8 1l1.3 .1l-.8 .9l-.5-1.2l1.3 0l1.3 0l-.1 1.4l-.1 1.3l0-1.4l0-1.3l-.1-1.2l-1.3 0l-1.3 0l.1 1.4l-1.3 0l-1.2 0l.3-1.3l-1 .1l.6-1.1l.6-.9l-.4 1.2l1.8 .2l-1.1 .2l-1 .2l.3 1.4l-1 0l-.7 .1l-.5 0l1.2-1.2l1.7 .1l.2-1.2l.6-1l1.5-.1l-1.3 .1l1.5 .3l-.1 1.3l0-1.2l0-1.3l0-1.2l1.4 .1l1.3 .1l1.2 .2l-.3 1.8l-1.7 .5l1.3 0l1-.1l-2.5 1.2l-1.3 0l-1.3 0l-.8-.8l.3 1.7l-1.2 0l1.1-.9l-1.1 .2l.2-1.2l1.9 .5l1.3 .1l0-1.3l1.3 0l1.3 0l-.2-.9l-.1-1.1l.7 1.3l-.4 1.8l.7-.1l-2.5 1l-1.3 0l0-1.3l0-1.2l0 1.3l.9 .9l-1.3 0l1.4 0l0 1.4l0 1.3l-1.3 0l-1.3 .2l.1 1.2l-1.2-.1l-.8-.9l.8 1l.6 1.1l1.5-.2l0-1.5l.1-1.3l.2 1.3l0-1.3l0 1.3l1.2 .5l0 1.3l1.3-.2l-1.3 0l-.1-1.4l.6-1.2l0-1.3l0 1.3l-1.3 0l0 1.3l1.3-.1l1.1-.7l0 1.3l1.3 0l-.1-1.3l-.2 1.2l-.1-1.4l1.1 0l.1-.3l-3.1-.3l.1 1.3l-1.3 0l0-1.3l0-1.3l0 1.3l-1.3 0l1.4 0l-1.3 0l-.5 1.1" fill="none" stroke="#2182c9" stroke-width="1.3" stroke-linejoin="round"/>
<path d="M717.5 424.5l.6-1.1l-1 .7l1.3 0l-1.2-.4l.1 1.4l-.4 1.2l-.8 .6l1.5-.5l1.3-.2l-1.3 0l1.3-.1l-1.4-.1l0-1.4l.8 1l0 1.3l-.1-1.5l0-1.3l-1.2-.4l.1-1.1l1.4 .2l.7 1l0 1.3l1.1 0l-.7 1.1l-.1 1.2l-.2-1.5l-1.4-.1l1.3 .2l0-1.4l1.2 0l-.2-1.3l-1.4 .1l0-1.3l-1.3 0l0-1.2l0 1.6l-1.3 .1l0 2.3l.3 1.3l1.4 0l1.2-.1l-1.2 .5l0 1.1l-.1-2l-.2-1.3l0-1.3l0 1.3l0-1.3l.7-1.1l-1-.8l.9-.6l0 1.5l-1.1 .8l-.5 1.3l-.4 1.3l.9-1l-1.3 0l.7 1.2l0 1.2l.3-2l-1.3 0l1.3 0l0-1.3l-1 .4l1.3 0l-1.2 0l.7-1l.9 .2l0 1.3l0-1.3l-1.3 .1l1.1-.2l.3 1.3l0-1.3l1.3 0l1.3 0l-.1-1.3l-.1-1.2l-1.4 .2l1.2-.3l-.1-1.1l-.2-1l1.1 .7l-1.5 .4l1 1l-.1 1.5l-.3-1.2l-1.4 .1l0-1.1l-1.4 .4l.2-.2l1.3 1l-.8 1.2l-1.3 .1l-.5 1.6l1.4 0l1.3 0l.9 1l.3 1.1l0-1.4l-1.4 0l1.3 0l1.2 0l-1.5 0l-1.4 0l.5 1.2l1.3 0l-1.5-.1l-1.2 .5l1.4-.3l0 1.3l.6 .8l-.8 .7l-.9-.4l-.8-.8l1.7-1l0 1.2l-.2 .7l-1.5-1.3l.4-2.2l1.3 0l-1.3 0l0-1.3l1.3-.4l0-1.3l0 1.4l1.3 0l-1.4 0l0-1.3l-1.2 .3l.1 1.7l-1.3 .1l-.1-1.3l1.3 2.5l0 1.3l.9-1.6l-1.3 0l-1.3 0l-1.3 0l.1-1.3l.2 1.4l1.3-.1l-1.2 0l-1.1-.7l.5-1.3l1.9 .3l1.5 2.3l.1-1.4l0-1.3l0-1.2l.7-.9l.1 1.6l-.1 1.3l.6-1.1l1.3 0l-1.3 0l-1 .9l1.3 0l.7 1.2l-1.4 0l1.3 0l1 .6l-1.2-1.6l-1.2-.6l1.3 0l.7-1.1l-1.1 .8l.8-1l-1.1-.7l0-1.2l1-.4l-.2 1.7l-1.3 .1l-.3 1.4l1.3 0l-1.3 0l-1.3-.3l.8 3l0-1.4l-1.2 .6l0 1.3l0 1.3l.5 .5l.4-3l1.3 0l0 1.2l0-1.3l-.6 1.2l0-1.4l-.7 1.1l1.2 .5l0-1.3l.6 1.1l1.3 0l-1.5-1.2l-.6-1.1l1.3 0l1.1 .7l-.1 1.3l.2-.4l-.8-1.5l-1.4 0l0-1.3l-1.3 .1l1.4 .2l-.1 1.3l0-1.3l-1.3 0l.1 1.5l0-1.3l1.3 .2l0 1.3l1.3 0l-1.3 0l0-1.3l0 1.3l0 1.3l0 1.3l1.2-.2l-.1 1.2l1.1-.4l-.3 .9l.9-.5l.7-.5l-1.3-2.2l-.8-1.5l-.6-1.1l-1.3 0l0-1.3l.4-1l-1.3 .5l1.4 .7l-.7-1l1.2 .4l0-1.2l-1.4 .8l1.2 1l1.3 0l-.1-1.2l-.1-1.1l-.2-.9l-.3 2l1.1-.5l1.1 .3l1 .3l-.5 1.7l.6-.8l-.5-1l-1.7 .4l-.3-1.1l1.1 .3l-.3 1.6l-1.4 .2l1.2-.3l-1.4 .4l1.2 .1l-.1 1.4l.7-1.1l-1.5 .2l0-1.3l-.1-1.2l1.2 .3l-1.5 .2l-.1 1.5l0 1.3l-1.2 .5l0-1.3l-1.1 .8l1.6 .6l0-1.3l1.3 0l0 1.4l1.2 0l-.1-1.3l-1.4 .1l0 1.3l-.8 1.1l1.3 0l-1.1-1.4l1.3 .1l1.2 .2l1.1 0l-1.7 0l-1.4 .1l-1.3 0l-1-.8l1.4 .2l-1.3 0l0 1.4l1.3 0l-.4 1.2l0 1.3l.4 .7l.5-1.8l-1.3-.1l0 1.2l.9 .1l-1.4-.4l1.4-.8l.4 1.1" fill="none" stroke="#2182c9" stroke-width="1.3" stroke-linejoin="round"/>
<path d="M776.2 418.3l0 1.3l1.3 0l-1-.8l-.1 1.3l0 1.3l1.3 0l-.7-1.7l-.1 1.3l-1.3-.2l-.9-1l-.5 1l.5-1.9l.1 1.2l1-1.2l-1.3 0l-1.1 0l2.2 0l-1.3 0l.3-1.4l-1.2-.1l.6 1.5l.2 1.2l.3-1.6l.2 1.3l-1 .3l1.9-.4l1.3-.1l1.3-.1l-1.3 0l0-1.3l1.3 0l-1.4 0l0-1.3l-.8-1l1.3 .2l-.1 1.6l-.1 1.3l-.1 1.3l0 1.2l-.1-1.4l0 1.2l-.7-1.2l-1.3 0l-1-.8l.5 1.1l1.6-.4l1.2-.4l0-1.3l-1.3 0l-1.2 .5l1.4-.1l0 1.3l.4-1.2l-.8 1l1.4-.1l-.1 1.3l-1.3-.2l1.3-.1l0-1.5l1.3 0l-1.4 0l1.3 0l-1.3 .1l0 1.2l1 .7l-1.5-.4l0 1.3l0 1.2l0 1.1l0-1.8l1.2-.2l1.1-.7l-.4-1.8l.9-.9l1.2 0l1-.1l-.8-1.3l.7 .1l-1.5 1.2l1.1 0l.8-.1l-2.1 .2l1.1-.2l-.4-1.3l-1.8 .1l-.2-1.3l-.4-.9l-1.8 .8l1.3 .3l-1.4 .2l-1.3 0l-1.3 .1l1.6 .1l-1.2-.2l-1.2 .1l2.2 .1l.4 1.3l0 1.3l.1-1.4l1.3 0l1.3 0l0-1.3l-.2-1.1l-.4-.7l-.3-.2l-1.4 2.6l1.3 0l1.3-.2l-1.5 .1l-1.3 0l0-1.3l0 1.3l0 1.3l-.8-1l.1-1.3l-.7 1.2l.3-1.3l1.3 .1l0-1.3l0-1.2l.1-.6l1.5 1.7l-.4 2.7l-1.3-.3l0 1.3l-1.3 0l1.7-.1l-1.3 0l-1.1 0l-.5-.1l2.5 .6l1.1-.7l0-1.3l-1.3 .1l-.6 1.1l-1.1 .3l.7 1.3l-.5-1.2l-.7-.1l2.5-.1l.9 1l-1.2 .3l-.1 1.2l.3 .6l1.3 .2l-.4 1.1l-1.1-.9l-1-1l.5 .6l.6-2.6l0 1.2l.1 1.1l1.4-.3l-1.2 .5l1.4-.2l-.8-1.2l1.3 0l0-1.4l-1.4 0l0-1.3l0 1.4l1.3 .1l1.3 0l1-.8l1 0l-1.9 .1l-.1 1.3l1.2 0l-.2-1.4l-.3-1.3l-.5-1l.2 1.4l-.3-1.2l-2.1 .7l0 1.5l0 1.3l1.3 0l-.1 1.2l.8 .9l-1.7-.4l0-1.5l0 1.2l-.1-1.4l-1.3 0l.8-1.1l0-1.3l0-1.2l-.2 .3l1.3 1l1.2 .1l.7 1l-1.5 0l0 1.3l-.6 1.2l-1.4-.2l-1.3 0l1.3-1.1l0 1.3l0-1.4l0-1.3l-1.3 0l-1.2 0l2 .1l.1-1.3l-1.3 .3l1.4 .1l0 1.3l1.1 .6l-1.3 0l.5 1.2l1.3 0l-.1 1.2l0 1l-.6-1.5l1.3-.1l-.2-1.6l1.3 0l-.1 1.3l-.2 1.2l-.4-1.9l-1.4 0l0-1.4l0 1.3l-1.3-.1l-1.3-.1l.3-1.4l1.4-.4l-1.3 0l.1 1.4l.1 1.2l1.5-.4l1.3 0l0 1.3l1.1-.5l-.2 1.2l-1.4-1.7l-.1-1.4l1.1-.8l1 .8l1-.7l.9 0l-1.5-.9l-.4-1.2l.5 .6l-1.6 1.1l-1.3 .1l1.3 0l.3-1.3l-.3-1l-.6 2.1l-1 .8l0 1.3l0-1.3l0-1.3l0-1.2l-.1 2.6l-1.3 0l1.3 0l1.3 0l0 1.3l1.3-.1l-.1 1.3l-.3 1l-.5 .5l-1.8-1.2l0 1.2l0 1.2l0 1l1.3-.6l1.1-.9l.5-1.6l-.4 .8l-.8 .1l-.9 .1l-1 .6l-.4-1.6l-1.3-.2l-.3-2l1.6-.2l0-1.3l1 .9l-.6 1.1l-1.3 0l-1.2-.2l.2 .9l1.9-.6l.1-1.4l-1.3 .4l-.8-.9l1-1.2l1.4 0l0 1.3l1.1 .6l-1.3 0l.6-1.2l0-1.3l1.2 .5l-1.2-.5l-.1 1.9l0 1.3" fill="none" stroke="#2182c9" stroke-width="1.3" stroke-linejoin="round"/>
<path d="M778.0 471.0l0-1.3l0 1.4l.2-1.3l-.3-1.2l1.3 .6l-.1 1.4l-1.3 0l0 1.3l1.3 0l-1.2 .5l-.1-1.3l0-1.3l0 1.4l0-1.3l1.3 .1l0 1.3l-.9 1l0 1.3l-1.3-.1l1 .6l-1.3-.4l1.6-.6l1.3-.1l.7 1l-.3 .9l-1.5-.5l-.1-1.7l0 1.3l1.3-.2l.9-1l-2.4-.8l0-1.3l-1.3 0l1.3 0l0 1.3l0-1.3l0 1.3l0-1.4l1.3 .1l-.8-1l0-1.3l-.1 1.7l1.3 0l1.2 .1l-2 .5l0-1.3l1.3 .1l-.3 1.4l1 0l.3-.5l-.2 1.3l-1.8-1.7l-.1 1.3l-1.2-1.6l0-1.2l.9 1.5l0 1.3l-1.9-.2l.2-1.3l1.4 0l1.3 0l1.1 .1l-.7 1.6l-1.8 .9l0-1.3l1.3 0l.5-1.1l-1.6 .2l.8-1l1.2 .1l-1.3 1.3l-1.2-.5l-1.4 0l-1.2 0l-1.2 .1l1.3 1.3l.6-1l-1.3 0l.8 1.4l.5-1.5l.9 1l.9 .9l0 1.3l1.3-.2l1.2-.1l-2-.6l-1.3-.1l.1-1.4l-.5-1.2l-1.2 0l-1.2 .1l-.8 .1l.9 1.3l1.8 1l.2-1.6l.4-1.2l.1 1.4l.1 1.3l.2-1.4l.5 1.3l0 1.2l0 1.2l.5-1.8l-1.3 0l1.4-.2l0-1.3l-1.3 0l0 1.3l.1 1.1l.1 .9l-.5 .4l1.6-1.2l0-1.5l1.1 .6l-.1 1.2l-.1-1.6l-1.4-.1l1.3 0l1.2-.1l-1.5-2.2l-1.4 0l-1-.7l.2 1.5l1.7 .1l1.2 0l-.3 1.3l-.1 1.2l-1.3-.4l1.3-.1l-.1 1.2l.9 .6l-.3-1.9l1.1-.1l-2.8-1l0-1.3l0 1.3l-.9-1l.1 1.3l0-1.3l1.3-.2" fill="none" stroke="#2182c9" stroke-width="1.3" stroke-linejoin="round"/>
<path d="M685.9 418.3l0-1.3l.4-1.1l-.2 2.3l1.3 0l-.5 .2l-.1 1.3l-.1 1.1l-.5-2.7l-1.3 .2l.1-1.3l-1.3 0l1.5 1.6l1.2-.7l1.2 0l-1.7 1.7l1 .6l-1.6-.3l1.5-.6l1 .8l1.1-.2l-1 .9l-2-.8l-1.3-.4l1.3-2.6l-1.2-.5l1.4 .1l-1.3 .4l0-1.3l1.3 1l.5 1.5l.8 .1l-.6-1.3l-.3-.9l1 1l-2.7 1l.1 1.4l1-2.3l-1.3 .1l.1 1.4l-.8 .9l2.8-1l-1.3 0l1.1-.8l-1.4 .1l-1.3 0l.8 1.5l1.2 .3l1.3-.3l0 1.3l-.6 .2l-1.7-1.6l.7 .4l-1.2-.3l1.4-2.2l0 1.3l1.3 0l1.3 0l-1.9 0l-1.2 .4l1.5-.2l1.3-.1l.8 .8l-.2 1.3l-1.8-.5l.2 .7l-.7-2.8l-.1-1.3l-.9 1.2l0-1.2l1.3 0l.1 1.7l0-1.3l-1.5 .3l0-1.3l1.4 .2l-1.2 1.7l-1.2 .1l1.5 0l1.3 0l-3.1-.1" fill="none" stroke="#2182c9" stroke-width="1.3" stroke-linejoin="round"/>
<path d="M699.9 421.8l1.3 0l1.3 0l-.3 1.3l-1.4 0l-.3 .8l-1.6-1.1l-1.2-.1l1.3 .4l-.9-.5l1.4 0l0 1.2l1.6-2.2l-1.2-.5l0 1.4l0 1.2l0-3.1l0-.9l.3 .5l-.2-.3l-.1 2.9l0-1.6l1.3-.1l.8 .3l-1.8 0l1.3 0l.7-.8l-1.6 2.2l1.1-.2l-1.3 0l.3 1.1l.5-1.4l0 1.3l-.9 .1l.9-1.7l1.3 0l-.2 1.2l1.1-.1l-.3-1.4l-.6-1.3l-2.9 .9l-1.3 0l1.7 0l-1.3 0l.2-1.2l1.4 0l.9 1.8l1.3 0l-.2 1.3l-1.5-.1l-1.7-.6l-1.3-.2l1.5 0l0 1.3l1.9-2l-1.4 .2l1.3 0l.5 1.2l-.1-1.4l1.2 0l-1.5-.7" fill="none" stroke="#2182c9" stroke-width="1.3" stroke-linejoin="round"/>
<path d="M728.0 428.0l0 1.3l1.2-.4l-.1-1.6l1.3 0l.6 .2l-1.6-1.1l-1.4 .2l-1.3 .1l1.3 .1l-.9-.9l.3 2l1.3 0l0 1.3l1.2 .1l-2.8-1l1.7-.2l-1.6 .6l1.1-.8l-.2 1.3l1.3 0l-2-.6l1 .8l0 1.3l-.1-1.4l0-1.3l-.1 1.3l.2 1.2l1.3-.1l.6 .8l-.6 .5l-.2 .9l-1.5-.6l.7-1.6l-1.3-.1l1.4-.3l1.2 0l.1-1.2l-1.5-1.9l1.2 0l-.1-1.1l-.3 1.7l-1.4 0l-1.3 0l1.2-.4l-.3 1.3l0 1.3l-1.2 .4l1.6-.1l0-1.4l-1.2 .5l.2-1.4l1.3 0l0 1.3l1.3 0l-.3-1l-.3-1.3l.1-1.2l-.1 1.5l-.9 1.1l1.3 0" fill="none" stroke="#2182c9" stroke-width="1.3" stroke-linejoin="round"/>
<path d="M779.2 430.3l-1.3 0l-1.2 0l.3 1.3l-.9-.3l-1-.1l.6-1.4l1.7 1.5l-1.1-.1l1.5-.1l.2 1.2l.9-.2l-.5-.8l2.4-1.6l-1.7-.7l1.3 .3l.6 .5l-2 .2l.3-1.3l.1-.7l1.1 1.9l-.5-1.2l1 .8l-.3 .7l-1.4 0l0-1.3l.8-.7l-.5 2.4l0 1.3l-.2-2.2l1-.8l-.5-.8l-.4 2.6l1.3 0l0-1.3l-.3 .9l1.3 0l-.2 1.3l-1.6-.2l1-.7l1.3-.1l1.2 0l-1.4 .7l-.2-1.3l-.4-1.3l-1.5 2.3l-1.2 .6l1.8-1.7l.7 .2l1.1-.3l-1.3 1.5l.3-1.3l-.3 1.3l-.1-1.4l-.3-1.2l.4 1l-2.9-.1l-1.3 .1l1.7 .1l1.3 0l-1.5 .1l0 1.3l-.1-1.4l0 1.3l-1-.3l-1-.7l1.9 .1l.2 1.2l-.1-2.2l.1 1.4l0 1.3l-.5-1.6l.1-1.3l-1.2 .1l1.6 .1l1.3 .1l1.3 .1l-1.7-.5l1.3 .4l0 .9l-1.3 0l-.5-1.2l1.4 .2l-.3 1.6l-.9 1l-1-1.9l0-1.2l-.8 1l.2 1.4l-1.2-.1l-1.1 0" fill="none" stroke="#2182c9" stroke-width="1.3" stroke-linejoin="round"/>
<path d="M763.1 402.5l-1.3 .4l1.4 0l-.2 1.3l-1.2-.9l0 1.3l1.5-.3l1.2-.2l-1.3 0l-1.3-.2l.1 1.2l.2 .8l.5-.5l.2-.5l.1-.5l.1 0l.4 0l0 1.2l-.1 .8l-.1-.5l-1.4-1.8l-1.2-.4l.2 1.2l.5 .8l.5-2.3l0 1.3l.9 .8l1.5-1.9l.4 1.2l-.5-1.2l-1.3-.1l1.3-.1l1.3 0l-1.6 .5l1.2 0l-.2-1.5l1.1 0l-1-1.2l-.2 1.4l-.2-1.3l-.1-1.2l-1.5 .4l.4-1.2l0 1.6l0-1.2l0 1.5l-1 .9l0-1.3l.1-.9l.1 1.6l-1.3 .1l.1-1.3l-1 .9l.2 1.4l1.4 0l1.3 0l1.2 .4l-.1 1.3l1.3-.1l-1.1 .9l-1.4-.1l1.2-.8l-.9-1l1.3 0l-.3 1.2l1.2 .4l1-.2l-2.6-.7l-1.3-.1l-1.3-.1l1.4-.1l.1-1.5l-1.3 0l0-1.3l.1 1.4l1.3 0l-.1 1.3l-1.2 .2l1.3-.1l0-1.4l1.3 0l-.1-1.3l-1.3 .1l-1.3 .4l1.4 0l1.3 0l-.8 1.2l-.5 1.2l1.3-.4l-1-1l1.3 0l1.1 0l-2.1 .1l1.3 0l.5 1l.3-1.2l.4-.6l.3 .3l-.2 .2l0 .2l-2.5 .6l-1.3 0l-1.3 0l-1.3 0l-.9 .5l.6 1.2l1.1-1.7l.1 1.3l.4 1l.5-2l0 1.3" fill="none" stroke="#2182c9" stroke-width="1.3" stroke-linejoin="round"/>
<path d="M786.2 442.9l-1.3 0l2.3 0l0-1.3l.3 1.3l1.2 0l-2.2 0l0-1.3l-1.3 .1l1.5 .2l1.3 .1l-1.3 1.1l1.3 0l-.3 1.2l-.8 0l-2.1-1.7l.5 .4l.3 1.2l-1.3 0l1.8-.4l0 1.3l1.3-.1l.4-1.6l-1.6-.1l-1.2-.5l1.2 1.4l0-1.3l0-1.3l-.2 1.9l0-1.3l0-1.3l-1.1 1.5l2.9 .1l-1.5 0l.5 1.2l.2-1.4l-1.3 0l1.3 0l0-1.3l-.1-1.1l.3 .1l-1.5 .7l.2 2.2l-1 .8l1.5-.1l1.3-.1l.4 .9l-1.4 .2l-1.8-1.8l2.7 .1l-.2 1.3" fill="none" stroke="#2182c9" stroke-width="1.3" stroke-linejoin="round"/>
<path d="M691.1 466.6l-.3-1.3l.5 3.1l-.1 .2l-1.3-1.5l-1.2-.5l.6 0l-.3 0l.2 0l-.2 0l.4-.7l-.9 .2l2.8 .3l0 1.3l0-1.6l.6-1.1l-1.3 2l-1.3 0l.4 1.2l1.2-2.6l-.2 .6l1.4 .1l-.9-1l-.1 3.1l-.6 0l-.7-1.9l.4-1.2l1 2.7l0 .8l1.2-1.9l-1.7-1.7l1.8 1.7l-3-.4l1.9 0l-1.3 0l1.5 0" fill="none" stroke="#2182c9" stroke-width="1.3" stroke-linejoin="round"/>
<path d="M747.3 466.2l1.3 .2l-.5-.2l-1.3 0l-1.2-.6l1.7-.7l.3 3l.3-.7l-2.3-1.5l1.3 1.7l-1.2-.2l1.6-.2l.9 .7l-.9-2.8l0 .5l0 1.8l1.2-.6l-.4-.5l0-1.3l.4 1.6l-1.7-1.5l.5 2.8l0-2.3l-1.1 1.2l.2-1.4l-.7 .7l-.8 .1l1.3-1.2l2.1 2.2l-2.7-.9l.3 1.3l-1 .4l2.1-1.1l.1 1.3l.4 0l-1.1-2.8" fill="none" stroke="#2182c9" stroke-width="1.3" stroke-linejoin="round"/>
<path d="M652.5 435.9l0 1.3l0-.5l0-3.2l0 2.3l0 1.3l0-3.1l0-.8l-1.1 2l2.1 .5l-1.3 0l0 1.3l-.7-2.1l2.3 .3l-1.6 .2l.1-1.2l.1 1.8l1.3 0l0-1.3l-.3-1l-.2-.8l-1.6 1.3l.5 2.8l2-1.7l-.3 1.4l-.3-1.5l1.1 .1l-.3-1.2l-.9-.4l-1.5 .5l1.9 1.7l0-1.3l.9-.2l-2.8 1l1.5-.2l-.1-1.2l1.1 .4l.2 .9l-.3 1.4l.3-1.2l1.2 0l-1.8 .1l-1.4 0l0-1.3l0-1l.3-.1l-.2 2.4l0-1.3l-1.3 .2l-.1 1.4l.9-1" fill="none" stroke="#2182c9" stroke-width="1.3" stroke-linejoin="round"/>
<path d="M681.5 462.2l0-1.3l1.3 .4l-1.5 .1l.1-1.2l-1.3 .9l.1 1.1l1.1 .9l.1 1l1.4-1.6l-1.9 .1l-1.3 0l.3-1.4l1.5 2.3l-1.2-1.9l1.9 .3l0-1.3l-1.5 .5l2.4 1.4l-2.3 .3l.1 1.3l1.8-1.3l1.1-.1l-3.1-.4l1.3 0l0-1.3l-1.4 .2l1.3 2.6l-.4-3.1l1.3 .4l.8 1" fill="none" stroke="#2182c9" stroke-width="1.3" stroke-linejoin="round"/>
<path d="M738.5 454.3l-.8-1l.1-1.3l-1.2 .3l1.2-.6l1.4 .4l-.6 .5l-1.4 1.8l-.8-.1l2.9-.5l-1.3 .4l.3 1.2l0-1.3l1.3-.4l-.2-1.2l.4 2.2l-1.6-.1l.3 1l-.1 1.2l-.9-1.4l-.1-1.3l.1 1.3l1.2 0l0 1.2l-1.3-.6l2.3-1.5l-1.6 0l.2 1.2l-1.3-.1l2.7-1.2l-.4-1.3l-.8 0l-1.3 .1l.6 1.4l3-.7l-3 .7l.3-.7l0-1.3l1.4 .1l-1 2.9l0 1.2" fill="none" stroke="#2182c9" stroke-width="1.3" stroke-linejoin="round"/>
<path d="M734.1 400.8l.1 1.3l-1.3 0l-1-.3l.5-1.3l1.7 1.6l0-1.3l0-1.3l-1.3 0l.3-1l.1 1.6l1.4 0l-.9 0l0 1.3l1.3 .3l-.1-1.4l-2.8 1l3-.4l-1.6-.1l-.9-.8l.9-.8l1.3 .1l.8 1.1l-.4 .5l-.4 1.2l0-1.3l1.2 0l-2.9 .8l.2 1.2l.5-2.5l0-1.3l1.3 .1l-.9 2.9l-1.3 0l-.5 .6l2.2-.9l-1.3 0l.1-1.4l-.3-1.2l-.5 1.3l1.1 1.6" fill="none" stroke="#2182c9" stroke-width="1.3" stroke-linejoin="round"/>
<path d="M792.9 456.9l.5 1.2l1.3 .1l-2.8-1.3l-1.2-.1l1.8 .1l0-1.3l1.8 1.7l-.5-.5l-.3 1.4l0 1.1l-1.7-1.7l-1.2-.3l2-.1l1.3 0l.5-.2l-3-.1l.7 1.2l.1-1.4l.8 1l-.2-1.5l0 1.4l0-1.4l0 1.4l0 1.2l1.4-1.8l-1.2-1.4l1.3 .4l-1.4-.6l-.4 1.4l0 1.3" fill="none" stroke="#2182c9" stroke-width="1.3" stroke-linejoin="round"/>
<path d="M740.3 469.2l-1.3 0l2.7 .9l-.2-1l-1.8 1.4l-.7-1.4l1.8-1.1l0-1.3l-1.4 .5l.7 3l-1.3-.1l2.1-1.9l-.1-1.2l1.2 .3l.1 1.3l-2.8 1.3l-.9-.3l.5-.4l.9-.9l1.4 .1l.6 1.1l-1.1-1.4l1.3 .1l-1.9 2.2l1.3-.2l-2.7-1.2" fill="none" stroke="#2182c9" stroke-width="1.3" stroke-linejoin="round"/>
<path d="M810.6 382.3l-1.3 0l0 1.3l.9 .4l-1.1 .3l1.1-2.8l1.1 .7l-.8 1l0-1.3l-1.3 0l1.3 0l0 1.3l0-1.4l-.5-1.2l0-1.1l.2 2l0 1.3l1.3-.1l-.7 1.1l.7 .9l-.2 .9l-1.6-1.5l.3 .6l.2 .4l.4-2.6l0-1.3l-1.3 .1l0 1.3l-1.3 0l-1.2 0l1.3 0l1.3 0l-.9-.9l0-1.3l.3 1.6l0-1.3l-.9 .8l0-1.3l.6 1.7l0 1.3l.1 1.3l-.1-1.4l-1.1-.4l1.3 0l-.7 1l.6 1l-.2-1.4l-1.1-.2l.1 1.3l.2-1l.1-1.4l1.1 .7l1.4 0l1.3 0l0 1.3l-.8 1l-1.4-1.1l.9 .2l0-1.7l0-1.3l1.4 .1l1.2 0l0 1.3l.5-1.1l.3-1.2l-.2-1.2l.8 .6l.5-.7l.7 .5l.6 .4l-.9 1.7l-2.3-.5l-.1-1.2l1.1 .3l-.3-1.2l-.2-.6l.3 1.5l1 .2l.9 .2l-.1 1.5l-1.6-1.1l-1.5 .1l-.7-1.1l.9 1.1l1.2 .1l1.1 .1l-.4-1.1l1 .2l-.7-1l-1.2-.7l.3 1.4l-.3-1.1l-2.1 1l.9 1.3l1.3 0l-.2-1.2l-.3-1.1l-2.1 1.5l-1.4 .7l0 1.4l0-1.3l1.4 .1l1.2 .1l0-1.3l-.3-.9l.7 1.7l.7-1l-.3 1.6l-1.4 0l0-1.2l.9 .1l-.1-1.1l-.8 2.7l0-1.3l-1.5 .2l-.8-.8l1.5 .4l-.1-.7l0 2.6l0-1.3l1.2 .2l-1.3 0l1.2-.5l-1.4 .2l1.3 .1l.5-1.1l-1.6 .5l1.3 .8l.4-1.2l-.3 1.7l-.4-1.3l-1.2-.4l0-.6l-1.2 .9l-1-.1l1.8 .5l1.3 .2l0 1.4l1.3 0l-.1-1.2l-.9 1l0 1.3l.5-1.2l-1.4 0l0 1.3l1.3 .3l1.3 0l-.3-1.3l-.2 1.3l1.3 .1l-.1-1.3l.1 1.2l-1.4 0l-.1 1.2l1.2-.1l1.1-.6l-.9-1.2l-.2-1.4l-1.7 .1l.6 1.2l-1.2 .5l1.3 0l1.2 0l-1.4-.1l1.3 0l1.2 0l.9-.1l-.9 1.2l-1.4-.7l1.2 0l1.1-.1l-1.9-.2l-1.5 0l0-1.3l-1.4 0l.2-1.3l.3-1.1l-.4-.3l-1.7 1.8l.4-1.2l1.4 .4l.2-.8l-.5 0l-1.6 1.5l1.4 .1l-1.4 .1l.1-1.3l.1 1.7l-1.3 0l1.4 0l1.2-.5l-1.4 .1l1.4 0l-.1 1.4l-1.2-.3l0-1.3l-1.3 .1l1.3-.5l-1.2 .2l.3 1.4l0-1.3l.2-1.2l1.5 .5l1.3 .4l1.3 .1l-.1 1.4l-1.3 .7l-1.3 0l.2-1.3l1.3 .1l-.2-1.3l-1.4 .2l1.3 .6l1.2 0l-1.3 .1l-.1 1.3l-1.3 0l0 1.3l1.4-.3l0-1.3l0-1.3l-.1-1.2l.6 2l.8-1l-1.3 0l-.1 1.5l-1.3 .3l-1.3 0l0-1.3l-1-.7l1.7 .3l-1.2 .1l-1.1 .1l.1 1.4l.1 1.3l-1-.2l.2 1.2l2.9-.9l-.8-.8l-1.2 0l0-1.3l1.4 0l0-1.3l.2-1.1l-.8 0l-.2-.2l1.8 1.8l-1.3 .1l.2 1.4l0 1.3l-.1-.7l0 1.3l0-1.5l0-1.3l0 1.4l1.3-.1l.1-1.3l-.3 1.2l-1.3 0l1.2-.4l0-1.3" fill="none" stroke="#2182c9" stroke-width="1.3" stroke-linejoin="round"/>
<path d="M821.2 380.8l-1.3 0l1.3 0l-1.3 0l0-1.3l-1.1 .2l2.1 .4l-.4-1.2l.3-.4l.3 .5l.1-.1l0 2.8l0-3.1l.2 3.1l-.4-3.1l1.5 1.8l-1.2-.6l.8-.7l-.8 2.9l-.1-3.1l0 2.8l-1.1-1.1l.1 1.3l1.5-.2l-2.2-1.6l.7 1.3l0-1.3l.1-1.3l.4-.4l-.9 1.8l.1-1.2l-.9 .6l.6-1l.8 2.4l.2-1.3l1.4 .1l-.7 2.2l.1-.6l-.6-2.8l1.6 1.7l-1.4 0l1.3 0l-.1-1.2l-.9 2.8l1.1-1.8l-1.7 .3l-1.3 0l1.6 .1l.5-1.2l1.1 1.3l-1.3 0l-1.3 0l-.7 1.1l1.4 0l.2-1.7l-.6 1.2l-1.3 0l-1.3 0l.1 1.3l1.9-.3l.4-1.7l-1.2 0l1.4 .1l1.4 0l-1.3 0l1.3 0l0-1.3l.9 1.3l-1.4 0l0-1.3l0-.5l1.3 1.8l0-1.3l-1.7 2.6l1.7-1.1l1.2 .4l1.3 0l1 .7l-1.7-.1l-1.6-.3l-.2 1.2l.3-1.5l0 1.3l-1.3-2.6l-.1 1.6l-.5-.4l0 1.3l.3-.5l1.3-1.8l-1.7 1.2l1.3 0l-1.3 .3l.3-1.6l.3 1.4l.8-1l0-1.2l.3 2l-.1-1.3l.2 .9l1.1 .6l0 1.2l-1.5-2.3l-.2 1.4l-2.5-1.4l1.7 .1l1.1 .8l1.2 0l0 1.3l-.2-1.1l1.1-.6l-1.3-.2" fill="none" stroke="#2182c9" stroke-width="1.3" stroke-linejoin="round"/>
<path d="M825.3 386.4l1.3 0l-.1 1.3l-1.2-1.2l1.3-.3l1.2 .3l-.8 1.3l.1 .8l-.6-.3l-2.1-1.3l.8-1.9l.1-.2l0 .5l1.3 1.4l.1 1.2l.8-.6l-.7-1.6l-1.4 0l-1.4 .6l-1.1-.7l.2 1.4l2.9-.5l0 1.3l.9-1l-.8 1.1l-1.8-1l1 .7l1.3-.3l1 .3l-2.2-.5l1.3-.4l-.2 1.3l-.5 .5l-1.9-1.7l.6 1l.1-1.6l0 1.3l-1.3-.1l.3-1l.1-1.3l.2 1.5l1.4-.1l0-1.3l-1.7 1.8l.4-.8l-1.3 0l1.6 0l1.3 0l-1.1-.8l-.2 1.4l.5-1.6" fill="none" stroke="#2182c9" stroke-width="1.3" stroke-linejoin="round"/>
<path d="M881.8 418.6l0-1.3l-1.3 .1l1.5 .2l0 1.3l0 1.3l.9 .9l-.1-1.4l-1.3 0l1.3-.1l0-1.3l0 1.3l-1.3 0l1.3 0l-1.3 0l-1.2-.6l-1.2 0l-.9 0l1.2-1.4l.1 1.3l.3 1.3l.8 .8l-.7 .5l.6 .4l.3 .5l-1-1l1.9-.6l-.8 .9l.1-1.9l-1.1 .6l.4 .9l-.6-1.4l.4 1.1l.4 .7l.3-2l0 1.2l1.5-.3l-1.4 0l.1-1.5l0-1.3l-1.2 0l0-1.2l2.2 .9l.9 1l0 1.3l-1.3-.2l1.1-.7l-1.3-.3l0-1.3l.1-1.1l1.4 .9l1.2 0l-1.4 .1l-1.3 0l1.4 .2l1.2 .1l0 1.3l.9 0l-2-.1l1-.7l-1.4 0l0-1.3l0-1.1l-1.5 .9l1.6 .9l0-1.3l-.6-.8l-.1 2.8l-.9-.9l.3 1.6l1.3 0l-.7 1.1l0-1.3l-.8 1l0 1.3l-1.2-.3l.4 .9l-.7 0l-.5-1l.1 .3l-.3-.8l-.6-.4l.7-1.4l0 1.3l1.7-.1l1.3-.1l-1.3 0l-1.2 0l.9-1.1l-1.3 0l.1 1.3l.4 1.2l-.7-.6l-.5-.4l2-.2l.1 1.2l.8 .8l-1.2-.2l1.7-.7l-1.3-.1l-1.1-.2l1.9-.7l0 1.2l-1.2-.1l-1-.5l-.1 .5l2.4-.9l1.3 .3l0-1.4l0-1.3l-.4-1.2l-.1 1.8l0-1.3l-.1-1.1l1.2 1.1l-.1-1.2l-1.6 .7l.1-.5l.8 .2l-1.5 .6l.3 2.1l-1.3 0l0 1.3l.3 1.1l.3-1.8l0 1.3l-.1-1.5l.1-1.3l1.3 .1l0-1.3l-1.3 .4l.4-.7l.4-.1l-1.1 1.4l-.2-1.1l2.3 1.3l1.2 .4l1.2 0l.9 .3l.5 0l-1.2-1.2l1.1 .1l.5-.4l-2.1 .7l-1.4-.1l-1.3 0l-1.2-.5l-1 .5l-1.2 .1l-.6 1l2.7 .3l.6 1.2l-1.3-.1l1.2-1.3l1.3 0l0 1.3l0-1.3l1.3 0l1.2 0l-.9 1.2l-.1 1.3l-.1 1.1l-.2-1.7l.3-1.3l-.2 1.2l.9-.9l-1.7-.7l0 1.3l-.1 1.3l-1.3-.2l-.2 1l1.1 0l-.5-1.7l0-1.4l-1.3 0l.1 1.3l1.1 .6l.8-1.2l.3 1.2l1.3-.1l1.2-.1l-.3-1.5l-3.1-.4l-.5 1.2l0 1.2l1.3-.1l1.3-.2l-.1 1.2l-1.6-.4l0-1.7l1.3 0" fill="none" stroke="#2182c9" stroke-width="1.3" stroke-linejoin="round"/>
<path d="M881.0 412.6l0-1.3l0-1l0 3l1.3 0l-1.4 0l-1.3 0l1.5-.1l1.2 .3l-.5-1.3l-.1 1.3l1.3 0l-.3-1.4l0-1.3l-1.5 .1l1 1.8l-1.3 .3l1.3 0l-.8-1l1.1-.8l-1.4 .1l-.1 .1l-1.3 .2l0-1.2l-1.1 .3l.4-1l1.2-.4l1.3 1.2l.8 1.8l0 1.3l.8-1l-.2 1.3l-.3 1.1l-.5-2l0-1.4l-1.4 .1l1.3 0l-1.3 0l1.3 .1l-1.3-.2l0-1.3l.1-.9l.3 .5l-.1 3.2l.3-1.3l.6-.8l1.2 .2l-.2-1.2l-.3-.9l-2 1.6l0 1.4l1-.8l1.2 .2l-.7 1.2l1.3-.2l-.3 1.3l.9-.2l-1.7 .7l1.1-.3l-1.8-.3l-.1-1.4l-1.2-.5l-1.3 .2l.2-1.2l.2 1.5l-1.2 0l.5 1.4l.9-1.8l1.3 .1l0 1.3l0-1.3l1.3 0l0 1.3l1.2 0l-1.7-.1l1.3-.1l-1.6 0l-1.3 0l.1-1.4l1.3 .1l1.3 0l-1.3 .4l1.2-.3l1.2 .5l.8 0l-2.3 .1l-.1 1.3l.6 1l-1.7-.3l1.1-1.9l-1.4 0" fill="none" stroke="#2182c9" stroke-width="1.3" stroke-linejoin="round"/>
<path d="M873.6 426.5l0 1.3l1.2 .2l-.4-1.7l-1.8 .5l1.4 0l1.2 .1l-1.3 0l-.8 1l.5-2.6l0 1.5l-1 .9l2.3-.8l0 1.3l-.5-2l-.2-.6l1.1 .3l-3 .6l.1 1.3l1.3-2.7l-1.4 .4l1.4 0l0-1.1l-.1 2.6l-1.3 0l.1-1.4l-1.2 .1l1.1 1.7l-.7-1l-.4 .2l-.5 0l1.6 1.2l2.6-1.3l-1.4 0l1.3 0l-.2 1.3l-.3 1l0-2.9l-.5-.9l1.2 .6l-.2 1l-.1 1.3l-1-1.4l1.3 0l-.1-1.3l-1.3 2.6l0 .9l0-.5l-.9 .1l.8-2.9l1.3 .1l-2.7 1.3l-1.2 0l-.4-.1l1.3 1.2l1.4 .2l1.6-1.3l0 1.3l-.5 .7l-1.5-.9l.9-2.9" fill="none" stroke="#2182c9" stroke-width="1.3" stroke-linejoin="round"/>
<path d="M894.1 437.5l1.3 0l1.3 0l-1-.9l-.1 1.3l0-1.3l-.5 1.2l1.3 0l1.2 0l-.9-.9l-.1-1.2l-.5-1.2l-.1-1.2l-.1-.9l-.4 2.2l.6-1l-.1-1l.6-.2l-1.3-.1l-1.6 1.2l1 .8l1.2 .3l.4-1.1l-.2-.9l-.1 2l-1.4 .1l1.3 .2l1.2 .1l-.7 1.4l-.1 1.3l1.3 0l.6 1.1l1.2 0l1.1 0l-.3-1.4l-.2-1.3l-.6 1.4l-.1 1.3l1.1 0l-.1-1.4l-.2-1.3l-1.8 .2l0-1.2l-1.9 .3l1.2 .1l-1.1 1.2l-.8 1.1l1.3 0l-1.3 .3l0-1.3l0 1.3l-1.4 0l0-1.3l-1.3 0l.1-1.3l.8 2.9l1.4-.3l1.2-.3l-1.2 .4l.9 .9l-.1 1.3l-1.4-.1l-.1 .9l1.1-1.7l-1-.9l0 1.3l0 1.1l-1.2-2l.1-2.5l.1-1l.1 1.8l0 1.3l-1.2-.5l-1.3 0l0 1.3l-1-.2l1.4 0l-.9-.9l0 1.3l1.1-1.1l.1-1.3l1.3-.2l0 1.3l1.5-.2l.8-1.1l0-1.2l1.2 0l-.1-1.2l.2 1.4l-1.5 .1l0-1.3l0-1.2l-.2 1.7l0-1.2l-.1 1.5l0 1.4l1.3 0l-.1-1.3l-1.3 0l-1.3 .1l1.4 .5l-1.3 0l-1.3 .2l.9-1l1.4 2.1l-.3-1.3l-1.3 0l1.2-.5l0 1.3l0 1.3l1.2 0l-1.3-.1l-1.3 0l-1.2 0l0 1.3l2.5-1.2l1.3 0l-1.3 0l1.3 0l1.3 0l-1.3 0l-1.4 0l0-1.3l-1.3 0l-1.3 0l.1-1.3l0 1.4l.2-1.3l.2-1.2l-.2 1.5l0-1.3l2.5 1.4l1.3 .1l-.9-1l0-1.2l-1.4 .3l-.8 2.1l-1.3 0l1.3 .1l1.3 0l0-1.3l1.3 .3l1.3 0l.6 1.2l-.9 1.1l1.3 0l0 1.3l-.1 1.2l-1.2-.9l.4-1.3l1.3 0l-1.3-.3l1.3 0l-.1-1.3l-.1-1.3l.9 .2l.7 .3l.6-.2l-2.2 .3l.9 .1l-.4 1.4l-1 1l1.3-.1l-.1-1.3l-.1-1.3l.8 .2l-.5 1.5l-.8 1.1l-.1-1.3l-1.1 .7l-1.2 .6l0 1.3l-1 .8l-.1 0l-.1-3.1l-.2 1.2l.4-1.6l.1 1.3l-.3 1.3l0-2l0 1.3l1.3-.2l-.4 1.2l1.2-.2l-.1-1.3l-1.3-.1l0 1.3l-.1 1.2l1.2-.9l-.1 1.2l-.2 .9l-.4 .1l-1.7-1.5l.2-.5l.2-.5l0-.5l.1 .6l0-2.8l0-1.3l-1.3 .1l.7 2.1l0 1.3l.5-3l-1.1-.7l2.3 1.6l0-1.3l.7-1.1l1.1 .6l-1.4-.2l1.2 .1l1.2 .1l-.5-1l-.3 1.5l-.2 1.4l0 1.3l-.1-1.3l0 1.3l-1.4 0l-1.3 0l-1.3-.1l-1.1-.1l1.2 .4l.2 .3l-.5-1.5l1.3-.1l-1.3 0l1.3 0l-1.3 0l1.3 0l0 1.3l0-1.8l1.3 0l0 1.3l-1.3 0l0-1.5l0-1.3l-1.3 .2l1 2.6l.1-1.5l1.3 .1l-1.3 0l0-1.3l-1.2 .3l-.9 .4l1.3 .1l.2-1.2l-.1 2.8l-1.3 0l-1.2 0l0 1.3l.1-1.4l-1.3 0l1.4 0l0-1.3l-.1-1.3l1.5 .2l2.2 1l-1.2-.3l-.9 .7l.1-1.3l1.4 2.2l0 1.3l.2-2.8l-1.2 .2l-1.3 0l-1.3 .1l.9 .9l1.3 0l0-1.3l1.4 0l0-1.1l.1-.8l1.4 1l-1.3 .5l1.1-.5l-1.3 .1l.1-.9l1.3 .9l-1.3 0l0 1.6l-1.2-.2l1.2-.4l1.3 0l-1.3 .1l-1.3 0l1.1-.6l1.4 .3l0 1.3l0-1.3l1.3 0l-1.4 .1l0-1.3l-.1 1.4l-1.3 0l.2-1l0 1.8l1.3 0l-1.3 0l0-1.3l-1.2 .2l1.2-.7l1.2 1l-1.3 0l-1.2 .2l-1.3 0l0-1.3l1.6 1l-1.1 .1l0-1.3l2.5 .8l0-1.2l0 1.7l.5-1.2l-1.1-.6l-1.1 1.5l1.3 .8l0-1.2l.1-1.1l0-.5l.1 2.4l-1.3 .1l1.3 0l0 1.3l-.6 1.1l.5-2.5l0 1.3l-1.3 0l-1.3 0l.1-1.3l1.3 0l.8-1l.3-.3l.1 1.8l1.2 .3l-.9-.8l-.7-1.2l1.6 1.1l.5 1.2l0 1.3l-1.3-.2l.3-1.3l1.1-.7l-.1 1.3l0 1.3l-1.3 0l-1.3-.2l-.3-1.7l0 1.3l.2-1.5l-1.1 .6l0-1.3l0-1.3l1-.2l-.2 .8l.8-.4l.4 2.5l-.3-1.2l-1.2 .1l.8 1.1l-1.3 0l0 1.3l-.9-.9l.1 1.3l.2-1.5l-.3 1.2l1.4 0l1.3-2.7l-1.1 .7l0 1.3l1.3 0l.1 .8l1.4-1.5l-1.3 0l-1.3 0l-1.3 0l0 1.3l1.3 .6l.9-2.8l-1.3 0l0 1.3l0-1.3l1.3 0l0-1.3l-.3 1.8l1.3 0l.1-1.3l0-1.3l1.3 .2l-.1 1.3l-1.3 .1l1.3 0l-.1 1.3l-.9-.9l1.1-.7l.1 1.3l-1-.8l0 1.3l-.9-1l0 1.3l-1.3 .3l-.1 .9l1-.3l.3-3.1l0 1.4l1.2-.5l.4 1.2l1.1 .7l-.1-1.3l-.3 1.3l1.3-.1l-.1-1.3l-1.3 .1l0 1.3l1.2-.1l-.6 1.2l.8-1l1.2-.1l-.2-1.3l-1.3 0l1.2 0l-1.3-.4l-.6-1.2l-.1 1.4l1.3 0l-1.4 0l1.3 0l.9-.9l-.2 1.4l1.2-.2l-.7 1.1l1-.6l-1.5 0l-.1-1.3l-1.4 0l-.1 1.3l0-1.3l-.1 1.3l-.8-1l.8-1l-.2-1.3l-.1 1.4l1.2 .1l-1.5 .1l-.1-1.3l1.2 .1l-.9-1l1.2 .3l-1.6 .2l-.1 1.4l1.3 0l1.1 .1l-1.6 .1l-1.4 0l-1.4 .1l-.4 1.2l-1.3 .1l1.3 0l1.3 0l-1.2 .3l0-1.4l.1-1.1l.1-.9l1.4 .9l1.3 0l-.1-1.2l-1.2-.6l-1.5 .4l1.5 1.4l1.3 .1l-.1-1.3l1 .8l1 .2l.7 .3l.5 .3l-.6-1.2l-1-.8l-.4 1.7l-.2 1.5l0 1.3l-1.4 0l1.3 0l-.4 1.2l0-1.4l1.2 0l0 1.3l-.2-1.4l-1.3 .3l1.2 0l-1.3 0l.7-1l-1.3 0l-1.1-.7l1.3 0l0 1.3l0-1.3l1.2 0l1.2 0l-1.2 .7l1-.8l-.2-1.3l-.5 1.6l-1.4 0l-1.2 .6l.2-1.3l0-1.3l.7-1l-.2 1.5l-1 .9l-.5-1.2l-1.3 .2l.9 2.9l1 .7l0 1.3l1.2-.4l-.1-1.4l0 1.3l-.1 1.2l1.2-.2l1.1-.2l1-.8l-.3 1.2l-.4 1l-.4-1.7l.7 .8l.9-.3l.8-.3l-.6 1l0 .7l-.7 .7l.6-.7l-1.5-1.6l1-.5l-1.6-.2l1.1-.1l-.3-1.4l1.2 0l-1.4-.5l-1.3 0l-1.2 .5l-1.4 0l-.7-1.1l0 1.3l-.1 .7l.5-.4l0 .9l-.2-.2l1.1-2.8l-1.3 .1l-1.3 0l1.4 0l-1.3 .1l0 1.3l-1.3-.3l-1.3 0l.1-1.3l0-1.3l-.4-1l0 1.5l1.3 .6l-.4 1.3l.1-1.3" fill="none" stroke="#2182c9" stroke-width="1.3" stroke-linejoin="round"/>
<path d="M901.4 441.7l0 1.3l1.3-.2l-.3 1l.3-.9l-1.9-.7l-1.3 0l-.2 1.2l.2-1.4l.1 1.2l1.5-.1l0-1.4l0-1.3l-1-.6l2.2 2.1l-.9 1l.7-1.2l0 1.3l-2.1-1.9l1.7 2l-1.4-.5l0-1.3l.4 .7l0 1.3l.1-1.6l-.8 1l-1.3 0l.3-1.4l1.8 1.6l.1-1.4l-.9 .2l1.4 0l-1.2-.5l.4 .7l0-1.3l-1 .3l1.6 2l1.4-.1l-.5 .9l-.1-2.9l1.3 .1l-.8-.9l0-1.2l1.1 .5l0-.9l.8 .7l.2 1l-.3 .8l-1.8 1.8l-.3-1.5l0 1.3l1.2 .1l-1.6-.1l-.2 .9l1.2-.5l-.3 1l-.8-.4l-1.4-.8l1 .9l0-1.8l0-1.3l0-1.2l1.4 .8l-.1 1.4l-.2 1.3l-.5-1.9l0 1.3l1.2 0l1-.8l-.5 .2l-.7 1.3l.7-.9l1-.1l-2.6 0l-1.3 0l1.3 0l0 1.3l-1.9-1.7l1.7 .1l0 1.3l.9 .2l-2-.3l0 1.3l.3 .5l-.5-.4l.2 .4l.4-.1l-1.1-1.8l1.4 0l.1 1.2l0-2.2" fill="none" stroke="#2182c9" stroke-width="1.3" stroke-linejoin="round"/>
<path d="M851.5 452.2l0 1.3l1.3 0l.9-.2l-1.6 .5l-.1 1.2l.8 .4l-.4 .2l-.3-2.3l0-1.4l0 1.3l0 1.3l-.1 1l-.1-2.1l-.1 1.2l1 .6l-1.6-1.5l.1-1.3l-1.3 0l3.1-.2l-.1 1.3l-.9 .5l0 1.2l-1.5-.7l1.5-.3l-1.4-.2l-1.2-.1l.2-1.5l.5-.2l.5 1l-.9 .9l.2-1.6l.2 1.3l.1-1.5l.6 1.3l.1 1.2l1.3-.4l-1.4-.3l1.4-.2l-.1-1.5l1.2 0l-.1-1.3l-1.6 .2l.7-1.1l-.2 1.7l0 1.3l1.1-.6l-.4-1.4l-.1-1.2l1 .5l-1.7 1.2l-1.3 .1l-1.3 0l-.4 .5l3-.6l-.1 1.3l0 1.2l.3 1.1l-1.5-.8l.8 .8l1.3-.7l-1.3 .2l-.1-1.7l-1.3 0l1.3 .5l0 1.3l0 .8l.2 .3l.5-.1l.5-.1l-1.8-1.3l1.1-1.2l1.3 0l-.3-1l0-1.3l-.2 1.5l-.1-1.4l1.2-.1l.5 .4l-1.3 1.7l-2.9-.9l2.1 1.1l1 .6l-1.1 .3l1.2-.1l-2.5-1.2l1.3-.1l-.1 1.3l0 1.1l1.1-.6l.7-.9l-.3-1l.7-.2l-.5 1.3l-.3-1.5l-1.4 0l-1.3 0l1.3 .6l-1.4 0l1.4 0l-.1 1.2l-1.3-.2l1.3 0l1.3-.1l-1.7 0l0-1.4l-1.3 0l-1-.7l.7 1.4l-1.2 0l-.8-.4" fill="none" stroke="#2182c9" stroke-width="1.3" stroke-linejoin="round"/>
<path d="M866.2 435.5l0-1.3l0 1.4l-.8-1l.1 1.4l1.3 0l-1.4-.1l.9-1l-1.3 .1l2.9 .7l-1.5 0l1.3 0l-1.4-.1l1.3-.1l1.2-.1l-.5 1.3l-2.1-.4l0-1.5l0-1.2l1.3 .2l.9 .6l-1.5 .1l-1.1 .9l0-1.3l0 1.4l0-1.3l1.3 .1l1.2 .2l-1.5-.2l-1.4 .1l.1 1.4l.9-.9l0 1.3l-.2-2.1l0-1.2l0 1.9l0-1.3l1.3 .3l-.4-.7l.8 .4l-.9 2.3l-.1 1.3l.6-1.7l1.2 0l-1.8 0l-1.3 0l0-1.3l-1.2 0l1.4-.2l.1-1.2l1.4 .7l.8 .8l-1.5 .2l-1.4 .1l.2-1.1l-.2 1.6l1.6 2.1l.7-1.7l-.1-1.3l.8 1.1l-.2-1.2l-1.3 1.4l1.3 0l-.8-1.1l-1.5 .2l0-1.3l1.4 .4l-1.6 .6l-.2 1.4l.8 1l0 1.1l1.1-2.7l-1.4 0l-1.3 .1l.5 .4l1.4 0l1.2-.4l0 1.3l.1-1.4l-1.3 0l0-1.3l-1.2 .8l.2 1.5l1.1-.7l0-1.3l-1.3 .2l1.5 .2l0 1.4l0 1.3l-.5-.5l-1.3-.2" fill="none" stroke="#2182c9" stroke-width="1.3" stroke-linejoin="round"/>
<path d="M844.1 435.5l.6-1.2l1.2 .5l-3 .7l1.7-.8l1 .9l-.5-.1l-.8 1.3l-1.4-.1l1.3 0l-1.2 .6l2.3-1.6l-.3-1.1l-1.3 .1l1.2-.5l-1.4 .1l1 1.8l0-1.4l1.3 .1l-2.3 1.9l1.1 .4l-.1-1.4l0-1.3l.5-1.2l-.2-.8l-.3 .2l.9 1l1.1 .3l-1.5 2.3l-1.5-.1l.2 1.1l1.4-.6l1.2-.2l-.4-.7l-2.2-1.4l-1.1 .6l1.8 .2l0 1.3l-1.3 0l.7-1.9l.1 1.6" fill="none" stroke="#2182c9" stroke-width="1.3" stroke-linejoin="round"/>
<path d="M903.1 450.2l-.9-1l.2 1.6l.1-1.4l-1.2 .2l.5-1.2l.9 2.6l1.3 .2l-.1-1.4l-1.3 0l0 1.3l-1.2-.1l1.2-.8l-.9 1l.2 1.1l.7-2.6l1.4 0l0 1.3l1.2 .2l-.5-1.5l-1.3 0l.9-1l-1.4 .1l-.3-1l-1 1.6l1.7 .2l0-1.3l-1.2-.2l1.7 .7l0-1.2l.5-.1l-.8-.4l1.1 1.8l-.1-1.3l-.3-.7l.6 2.3l1.2 0l-1.2 .8l.9 .1l-1.1 1.3l1-.6l.9-.1l-1.9-.1l-1.4 0l.4 1.2l-1.4-.3l.1 1l1.8-1.4l-.9-1.1l-1-.8l.9 1.4l-1.3-.1l0 1.3l-.6-1.3l0 1.3l.5-2l.3 1.4l.1-1.5l1.4 .1l-1 .8l0-1.3l1.1 1l1.1 .6l-.2-1.3l0 1.3l-.1-1.4l-1.1-.8l0 1.5l0 1.3l0-1.5l0-1.3l-1.4 .3l.5 1.8l-.1-1.3l.1 1.4l-1.2-.1l-.8-1l3.1 .3l1.3 0l.9 0l-2-.3l-1.3 0l0-1.3l-1 .8l1.9 .3l.9 1l-.1-1.4l0-1.2l-.2-.9l-.4 .3l-.6 2.7" fill="none" stroke="#2182c9" stroke-width="1.3" stroke-linejoin="round"/>
<path d="M878.5 433.0l1.3 0l1 .9l-.7 1l-1.2-.1l-.4-.5l.4-.5l-.3-1.9l-1.3 .1l1.4 2.5l-1.5-1.8l-.1 1.3l-1.2-.2l.2 1.3l.6-1.8l-1.2 0l.5-1.3l1.7 2l-1.3-.1l-.5 1.1l-.8-.4l1.5 .5l2.1-.9l-1.1-.7l.3 1.2l1.9-1.7l1.3 0l-.3 1.3l-1-1.8l-.1 1.3l-1.1-.9l0-1.3l-.1 1.5l-1.3 0l.5 1.2l-.8 .1l-.5 1l2.3-1.6l-1.8-2l2.8 1.1l-1.4 0l-1.2 0l.6-1.1l.9 .1l-1.3 .1l1.4-.1l-.1-1.2l0 2.2l0-1.3l1.3 .2l-.5-.9" fill="none" stroke="#2182c9" stroke-width="1.3" stroke-linejoin="round"/>
<path d="M885.1 408.5l-1.2 .6l-1.2 0l.1 .9l.3 1.1l-.6-.9l.5-1.6l.4 1.2l-1.2-.1l2 0l1.4-.1l-.1 1.1l-.3-.2l.5-2.3l1.2 .5l.5 1l-.3-.8l.2-.2l-1.6-.2l0-1.3l.7-.7l-.9 2.2l-.2 1.2l-1.4-.4l.9-1.1l0-1.3l.3 .5l-1.3 .2l-1.2 0l1.5 .1l-.4 1.2l1.4 0l0-1.3l-1.3 .1l-.1-1.3l-.2 1.5l-1.2 0l-.6 .9l1.8-1.6l.3 1.6l-1.2-.1" fill="none" stroke="#2182c9" stroke-width="1.3" stroke-linejoin="round"/>
<path d="M872.0 399.5l-1.2 .6l2.9-.9l.9-.1l-.1 .2l-2.5 .1l-1.1-.7l.1-1.3l-.7 1.3l-.8-.7l.5 1.6l.6-1.4l.2-1.1l.8 2.9l1-.8l0-1.3l-.7 3l0 .9l.4-.5l.2 .1l-.4-.2l-1.4-.8l2.8-1.1l0-1.2l-1.3-.1l-.3 3.1l0 .7l-.4-3l.2-1.3l-1 2l1.4 0" fill="none" stroke="#2182c9" stroke-width="1.3" stroke-linejoin="round"/>
<text x="26.5" y="166.7" font-size="25.8">10<tspan font-size="16.5" dy="-7.7" dx="-0.8">-1</tspan></text>
<text x="26.5" y="290.8" font-size="25.8">10<tspan font-size="16.5" dy="-7.7" dx="-0.8">-2</tspan></text>
<text x="26.5" y="415" font-size="25.8">10<tspan font-size="16.5" dy="-7.7" dx="-0.8">-3</tspan></text>
<text x="26.5" y="539.1" font-size="25.8">10<tspan font-size="16.5" dy="-7.7" dx="-0.8">-4</tspan></text>
<text x="355.6" y="636.8" font-size="25.8">10<tspan font-size="16.5" dy="-7.7" dx="-0.8">-1</tspan></text>
<text x="656.7" y="636.8" font-size="25.8">10<tspan font-size="16.5" dy="-7.7" dx="-0.8">0</tspan></text>
<text x="909.8" y="638.6" font-size="35">t</text>
<text x="-0.7" y="27.8" font-size="30.5">&lt;x<tspan font-size="20" dy="-10">2</tspan><tspan dy="10" dx="1">&gt;,</tspan></text>
<text x="7.9" y="53.4" font-size="26">mm<tspan font-size="16" dy="-8.4">2</tspan></text>
<text x="263.8" y="132.1" font-size="24.2">Grains in liquid He</text>
<text x="159" y="317.4" font-size="34">t<tspan font-size="21" dy="-11" dx="0">2</tspan></text>
<text x="288.6" y="250.4" font-size="34">t<tspan font-size="21" dy="-10.5" dx="0">3/2</tspan></text>
<text x="630.4" y="110.3" font-size="34">t<tspan font-size="21.5" dy="-10.8" dx="0">1</tspan></text>
<text x="715.5" y="60.4" font-size="19.3">b) Single grain</text>
<text x="715.5" y="85.4" font-size="19.3">T<tspan font-size="13" dy="2">He</tspan><tspan dy="-2"> = 1.87 K, Q</tspan><tspan font-size="13" dy="2">p</tspan><tspan dy="-2"> = 1.9 W/cm</tspan><tspan font-size="13" dy="-7">2</tspan></text>
<text x="715.5" y="169.5" font-size="19.3">a) Single grain</text>
<text x="715.5" y="194.5" font-size="19.3">T<tspan font-size="13" dy="2">He</tspan><tspan dy="-2"> = 1.72 K, Q</tspan><tspan font-size="13" dy="2">p</tspan><tspan dy="-2"> = 0.3 W/cm</tspan><tspan font-size="13" dy="-7">2</tspan></text>
<text x="715.5" y="311.4" font-size="19.3">c) Grains in chain</text>
<text x="715.5" y="336.4" font-size="19.3">T<tspan font-size="13" dy="2">He</tspan><tspan dy="-2"> = 1.87 K, Q</tspan><tspan font-size="13" dy="2">p</tspan><tspan dy="-2"> = 1.9 W/cm</tspan><tspan font-size="13" dy="-7">2</tspan></text>
<text x="550.4" y="391.6" font-size="22.5" font-style="italic">y,</text>
<text x="528.6" y="417" font-size="22">mm</text>
<text x="555.3" y="573.8" font-size="23">0</text>
<text x="555.5" y="514" font-size="23">1</text>
<text x="555.3" y="460.3" font-size="23">2</text>
<text x="630.4" y="583.7" font-size="23" text-anchor="middle">1</text>
<text x="685.4" y="583.7" font-size="23" text-anchor="middle">2</text>
<text x="740.4" y="583.7" font-size="23" text-anchor="middle">3</text>
<text x="795.4" y="583.7" font-size="23" text-anchor="middle">4</text>
<text x="850.4" y="583.7" font-size="23" text-anchor="middle">5</text>
<text x="887.6" y="585.4" font-size="22"><tspan font-style="italic">x</tspan>, mm</text>
<text x="943.4" y="530.8" font-size="17.7" text-anchor="end" style="fill:#2182c9;stroke:#2182c9;stroke-width:.15px">Grains trajectories in liquid He</text>
<text x="943.4" y="551.4" font-size="17.6" text-anchor="end" style="fill:#2182c9;stroke:#2182c9;stroke-width:.15px">at temperature T=1.87 K</text>
<g id="cv"><rect x="27.47" y="163.27" width="5.33" height="5.13" fill="#fff"/><rect x="35.48" y="163.27" width="5.12" height="5.13" fill="#fff"/><rect x="60.15" y="156.27" width="3.70" height="4.43" fill="#fff"/><rect x="65.70" y="156.27" width="3.57" height="4.43" fill="#fff"/><rect x="27.47" y="287.37" width="5.33" height="5.13" fill="#fff"/><rect x="35.48" y="287.37" width="5.12" height="5.13" fill="#fff"/><rect x="27.47" y="411.57" width="5.33" height="5.13" fill="#fff"/><rect x="35.48" y="411.57" width="5.12" height="5.13" fill="#fff"/><rect x="27.47" y="535.67" width="5.33" height="5.13" fill="#fff"/><rect x="35.48" y="535.67" width="5.12" height="5.13" fill="#fff"/><rect x="356.57" y="633.37" width="5.33" height="5.13" fill="#fff"/><rect x="364.58" y="633.37" width="5.12" height="5.13" fill="#fff"/><rect x="389.25" y="626.37" width="3.70" height="4.43" fill="#fff"/><rect x="394.80" y="626.37" width="3.57" height="4.43" fill="#fff"/><rect x="657.67" y="633.37" width="5.33" height="5.13" fill="#fff"/><rect x="665.68" y="633.37" width="5.12" height="5.13" fill="#fff"/><rect x="640.49" y="96.39" width="4.57" height="4.81" fill="#fff"/><rect x="647.37" y="96.39" width="4.40" height="4.81" fill="#fff"/><rect x="766.35" y="82.46" width="4.18" height="4.64" fill="#fff"/><rect x="772.63" y="82.46" width="4.03" height="4.64" fill="#fff"/><rect x="877.02" y="82.46" width="4.18" height="4.64" fill="#fff"/><rect x="883.31" y="82.46" width="4.03" height="4.64" fill="#fff"/><rect x="766.35" y="191.56" width="4.18" height="4.64" fill="#fff"/><rect x="772.63" y="191.56" width="4.03" height="4.64" fill="#fff"/><rect x="766.35" y="333.46" width="4.18" height="4.64" fill="#fff"/><rect x="772.63" y="333.46" width="4.03" height="4.64" fill="#fff"/><rect x="877.02" y="333.46" width="4.18" height="4.64" fill="#fff"/><rect x="883.31" y="333.46" width="4.03" height="4.64" fill="#fff"/><rect x="556.25" y="510.78" width="4.83" height="4.92" fill="#fff"/><rect x="563.52" y="510.78" width="4.65" height="4.92" fill="#fff"/><rect x="624.75" y="580.48" width="4.83" height="4.92" fill="#fff"/><rect x="632.02" y="580.48" width="4.65" height="4.92" fill="#fff"/><rect x="892.85" y="548.58" width="3.89" height="4.52" fill="#f1f1f1"/><rect x="898.70" y="548.58" width="3.75" height="4.52" fill="#f1f1f1"/></g>
</svg></body></html>
